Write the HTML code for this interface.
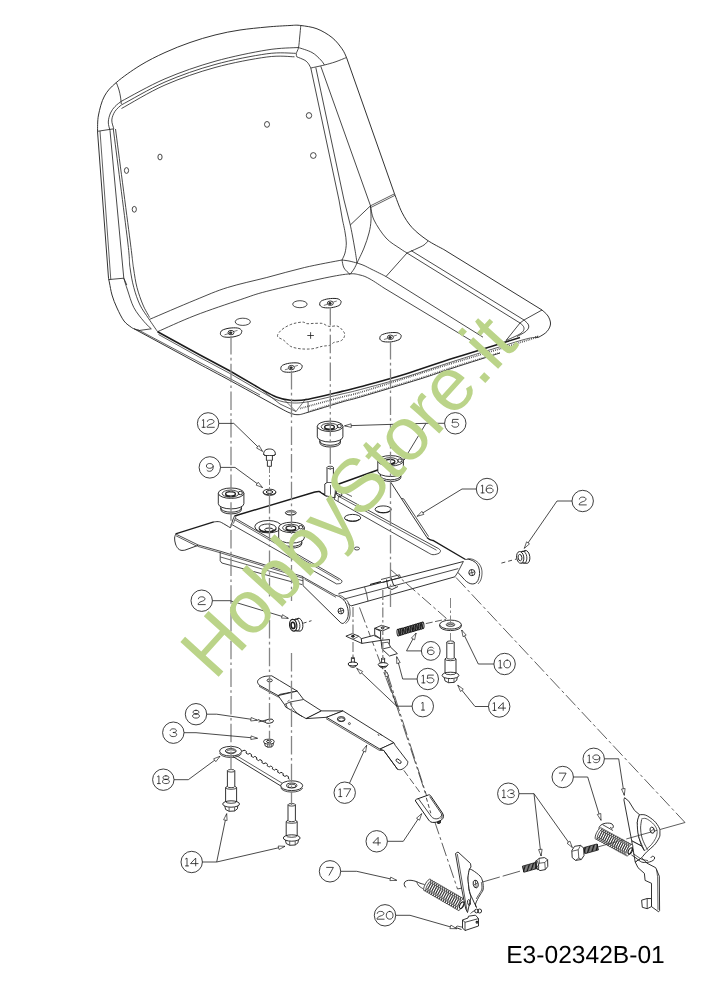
<!DOCTYPE html>
<html><head><meta charset="utf-8"><title>E3-02342B-01</title>
<style>
html,body{margin:0;padding:0;background:#fff;}
body{width:707px;height:1000px;overflow:hidden;font-family:"Liberation Sans",sans-serif;}
svg{display:block;will-change:transform;}
</style></head><body>
<svg width="707" height="1000" viewBox="0 0 707 1000">
<rect x="0" y="0" width="707" height="1000" fill="#ffffff"/>
<path d="M200 364.5L133.9 328.7C133.5 328.5 133 328.6 131.3 327.3C129.7 326 126.4 324.2 124 321C121.6 317.8 119 312.3 117 308C115 303.7 113.2 299.2 112 295C110.8 290.8 110.1 285.8 109.5 283C108.9 280.2 108.7 278.8 108.5 278L97.5 131.3C97.7 128.6 97.3 120.9 98.5 115C99.7 109.1 101.5 101.4 104.5 96C107.5 90.6 110.4 87.6 116.3 82.5C122.2 77.4 131.9 70.5 140 65.5C148.1 60.5 156.7 56.3 165 52.5C173.3 48.7 181.7 45.4 190 42.5C198.3 39.6 206.7 37.1 215 35C223.3 32.9 231.3 31.3 240 30C248.7 28.7 258.7 27.8 267 27C275.3 26.2 284.4 25.8 290 25.5C295.6 25.2 296.3 24.9 300.8 25.5C305.3 26.1 311.8 26.8 317 28.8C322.2 30.8 327.8 34.2 332 37.5C336.2 40.8 339.6 45.5 342 48.8C344.4 52.1 345.8 56 346.5 57.5L394.5 193.8C395.8 196.9 399.1 206.9 402 212.5C404.9 218.1 407.8 222.9 412 227.5C416.2 232.1 421.7 236.3 427 240C432.3 243.7 441 247.9 443.8 249.5L542 310C543 311 546.6 313.7 548 316C549.4 318.3 550.7 321.4 550.5 324C550.3 326.6 548.9 329.3 547 331.5C545.1 333.7 541 336 539 337C537 338 535.7 337.4 535 337.5" fill="none" stroke="#1c1c1c" stroke-width="0.9"/>
<path d="M100 131L110.8 279.5" fill="none" stroke="#1c1c1c" stroke-width="0.7"/>
<path d="M97.5 131.3L113.8 128.8" fill="none" stroke="#1c1c1c" stroke-width="0.8"/>
<path d="M108.5 279.6L123.8 278.2L126.8 285" fill="none" stroke="#1c1c1c" stroke-width="0.8"/>
<path d="M110 130.5L120.2 240L123.8 278.2" fill="none" stroke="#1c1c1c" stroke-width="0.8"/>
<path d="M113.3 129C115.7 147.5 124.7 216.9 127.5 240C130.3 263.1 128.9 259.6 130 267.5C131.1 275.4 132.1 281.2 133.8 287.5C135.5 293.8 137.5 299.8 140 305C142.5 310.2 145.9 314.4 148.8 318.8C151.7 323.2 156.1 329.6 157.6 331.7" fill="none" stroke="#1c1c1c" stroke-width="0.8"/>
<path d="M115.5 129C117.9 147.5 127 216.8 130 240C133 263.2 132.3 260.1 133.5 268C134.7 275.9 135.4 281.3 137 287.5C138.6 293.7 140.9 300 143 305C145.1 310 148.6 315.4 149.7 317.5" fill="none" stroke="#1c1c1c" stroke-width="0.8"/>
<path d="M123.8 278.2C124.4 280.2 125.8 285.1 127.5 290C129.2 294.9 131.1 302.3 133.8 307.5C136.5 312.7 140.9 317.8 143.8 321.3C146.7 324.9 150.1 327.6 151.3 328.8" fill="none" stroke="#1c1c1c" stroke-width="0.8"/>
<path d="M133.9 328.7L139 330.5L151.3 328.8" fill="none" stroke="#1c1c1c" stroke-width="0.8"/>
<path d="M116.3 82.5C116.8 83.8 118.3 87.6 119 90C119.7 92.4 120.1 94.7 120.5 97C120.9 99.3 121.2 102.8 121.3 104" fill="none" stroke="#1c1c1c" stroke-width="0.8"/>
<path d="M113.8 128.8C113.5 127.3 111.6 122.9 111.8 120C112 117.1 113.4 113.8 115 111.3C116.6 108.8 120.2 106 121.3 105" fill="none" stroke="#1c1c1c" stroke-width="0.8"/>
<path d="M110 130.5C109.7 129.1 108.2 124.9 108.3 122C108.4 119.1 109.4 115.6 110.5 113C111.6 110.4 113.2 108.5 115 106.5C116.8 104.5 120.2 102.2 121.3 101.3" fill="none" stroke="#1c1c1c" stroke-width="0.8"/>
<path d="M121.3 101.3C128.6 97.5 149.4 85.5 165 78.8C180.6 72.1 198 66.1 215 61.3C232 56.5 252.9 52.3 266.8 50C280.7 47.7 293.1 47.9 298.3 47.5" fill="none" stroke="#1c1c1c" stroke-width="0.8"/>
<path d="M121.3 105C128.6 101.2 149.4 88.8 165 82C180.6 75.2 198 69.2 215 64.5C232 59.8 253.3 55.7 266.8 53.8C280.3 51.9 291 53.4 295.8 53.3" fill="none" stroke="#1c1c1c" stroke-width="0.8"/>
<path d="M121.5 108.5C128.8 104.6 149.4 91.8 165 85C180.6 78.2 198 72.2 215 67.5C232 62.8 253.6 58.8 266.8 57C280.1 55.2 289.9 56.8 294.5 56.8" fill="none" stroke="#1c1c1c" stroke-width="0.8"/>
<path d="M300.8 25.5C300.6 27.4 300.1 33.3 299.7 37C299.3 40.7 299.1 44.9 298.5 47.6C297.9 50.4 296.6 52 296.3 53.5C296 55 296.7 56.2 296.8 56.8" fill="none" stroke="#1c1c1c" stroke-width="0.8"/>
<path d="M298.3 47.5C300.6 48.3 308.2 50.4 312 52.5C315.8 54.6 318.7 57.9 320.8 60C322.9 62.1 323.9 64.2 324.5 65" fill="none" stroke="#1c1c1c" stroke-width="0.8"/>
<path d="M296.8 56.8C298.1 57.4 302.9 59.1 304.9 60.3C306.8 61.5 307.5 62.5 308.5 63.8C309.5 65.1 310.4 67.3 310.8 68" fill="none" stroke="#1c1c1c" stroke-width="0.8"/>
<path d="M346.5 57.5C344.6 58.2 338.7 60.8 335 62C331.3 63.2 328.5 64 324.5 65C320.5 66 313.1 67.5 310.8 68" fill="none" stroke="#1c1c1c" stroke-width="0.8"/>
<path d="M310.8 68L339 200L342.5 220C342.9 222 344.4 228.2 345 232C345.6 235.8 346.3 239.5 346.3 243C346.3 246.5 345.7 250.2 345 253C344.3 255.8 342.5 258.8 342 260" fill="none" stroke="#1c1c1c" stroke-width="0.8"/>
<path d="M315.8 67.5L344 200L350.3 225C350.7 226.8 351.7 231.8 352.5 236C353.3 240.2 354.2 245.5 355 250C355.8 254.5 356.7 260.8 357 263" fill="none" stroke="#1c1c1c" stroke-width="0.8"/>
<path d="M320.8 66.3L370.5 205.8" fill="none" stroke="#1c1c1c" stroke-width="0.8"/>
<path d="M370.5 205.8L394.5 193.8" fill="none" stroke="#1c1c1c" stroke-width="0.7"/>
<path d="M371.2 207.3L395.1 195.3" fill="none" stroke="#1c1c1c" stroke-width="0.7"/>
<path d="M370.5 205.8L350.3 225" fill="none" stroke="#1c1c1c" stroke-width="0.8"/>
<path d="M370.5 205.8C370.6 208.2 371.2 215.5 371 220C370.8 224.5 370.2 228.3 369 233C367.8 237.7 366 243 364 248C362 253 358.2 260.5 357 263" fill="none" stroke="#1c1c1c" stroke-width="0.8"/>
<path d="M370.5 205.8C371.1 208.2 371.4 214.6 374 220C376.6 225.4 381.7 233.2 386 238C390.3 242.8 396.5 246 400 248.5C403.5 251 405.8 252.2 407 253" fill="none" stroke="#1c1c1c" stroke-width="0.8"/>
<path d="M342 260C343.2 260.2 346.5 260.5 349 261C351.5 261.5 355.7 262.7 357 263" fill="none" stroke="#1c1c1c" stroke-width="0.8"/>
<path d="M342 260C342.3 261.3 342.7 265.6 344 268C345.3 270.4 349 273.3 350 274.4" fill="none" stroke="#1c1c1c" stroke-width="0.8"/>
<path d="M357 263C356.5 264 355.2 267.1 354 269C352.8 270.9 350.7 273.5 350 274.4" fill="none" stroke="#1c1c1c" stroke-width="0.8"/>
<path d="M407 253C408.7 252.2 414.2 249.8 417 248.5C419.8 247.2 422.2 246.2 424 245C425.8 243.8 427.3 241.7 428 241" fill="none" stroke="#1c1c1c" stroke-width="0.8"/>
<path d="M407 253L386 276.5" fill="none" stroke="#1c1c1c" stroke-width="0.8"/>
<path d="M411 250.5L524 320C524.7 320.7 527.2 322.7 528 324C528.8 325.3 529 326.7 528.5 328C528 329.3 526.9 330.6 525 332C523.1 333.4 518.3 335.8 517 336.5" fill="none" stroke="#1c1c1c" stroke-width="0.8"/>
<path d="M407 253L520 323C520.6 323.6 522.9 325.2 523.5 326.5C524.1 327.8 524.2 329.2 523.5 330.5C522.8 331.8 521.9 332.8 519 334.5C516.1 336.2 508.2 339.5 506 340.5" fill="none" stroke="#1c1c1c" stroke-width="0.8"/>
<path d="M542 310L524 320L520 323L506 340.5" fill="none" stroke="#1c1c1c" stroke-width="0.8"/>
<path d="M149.7 319.3C157.3 316.1 182.2 305.3 195.2 300C208.2 294.7 215.6 291.2 227.5 287.5C239.4 283.8 254 280.8 266.8 277.5C279.6 274.2 292 270.4 304.5 267.5C317 264.6 335.8 261.2 342 260" fill="none" stroke="#1c1c1c" stroke-width="0.8"/>
<path d="M157.6 331.7C163.8 329 181.1 320.9 195 315.5C208.9 310.1 228.8 303.5 240.8 299.5C252.8 295.5 253.6 294.7 266.8 291.3C280 287.9 306.5 281.9 320 279C333.5 276.1 341.3 274.7 348 274C354.7 273.3 356.3 274.2 360 275C363.7 275.8 366 276.8 370 279C374 281.2 381.7 286.5 384 288L474 342.3" fill="none" stroke="#1c1c1c" stroke-width="0.8"/>
<path d="M357 263C358.2 263.4 361.5 264.4 364 265.5C366.5 266.6 368.3 267.7 372 269.5C375.7 271.3 383.7 275.3 386 276.5L483 337.2" fill="none" stroke="#1c1c1c" stroke-width="0.8"/>
<path d="M157.6 331.7L200 355L230 371L260.2 388.6C262.9 390 271.3 395.1 276.3 397C281.3 398.9 285 399.9 290.4 400.3C295.8 400.7 299.8 400.7 308.4 399.2C317 397.7 333.3 393.5 342 391.4C350.7 389.3 349.9 389.7 360.5 386.8C371.1 383.9 390.3 378.8 405.7 374C421.1 369.2 437.9 363.1 453 358.3C468.1 353.5 484.8 348.5 496 345C507.2 341.5 516 338.8 520 337.5" fill="none" stroke="#1c1c1c" stroke-width="1.6"/>
<path d="M158.5 334.5L200 357.5L230 373.5L260 391C262.7 392.4 270.9 397.5 276 399.5C281.1 401.5 285 402.4 290.4 402.8C295.8 403.2 299.8 403.2 308.4 401.7C317 400.2 333.3 396 342 394C350.7 392 349.9 392.3 360.5 389.5C371.1 386.7 390.3 381.7 405.7 377C421.1 372.3 437.9 366.3 453 361.5C468.1 356.7 483.5 351.8 496 348C508.5 344.2 521 340.2 528 338.5C535 336.8 536.3 337.7 538 337.5" fill="none" stroke="#1c1c1c" stroke-width="0.7"/>
<path d="M200 364.5C205 367.2 220 375.1 230 380.5C240 385.9 251.7 392.4 260 397C268.3 401.6 275 405.3 280 408C285 410.7 287 411.9 290 413C293 414.1 295 414.8 298 414.7C301 414.6 300.7 414.4 308 412.3C315.3 410.2 333.2 404.6 342 402C350.8 399.4 347.5 400.8 360.5 397C373.5 393.2 404.6 383.8 420 379C435.4 374.2 439.7 372.3 453 368C466.3 363.7 492.2 355.5 500 353" fill="none" stroke="#1c1c1c" stroke-width="0.9"/>
<path d="M137.5 329.5L200 362.6L230 378.6L260 395" fill="none" stroke="#1c1c1c" stroke-width="0.7"/>
<path d="M300 408.5C307 406.6 331.9 399.7 342 397C352.1 394.3 347.5 396.2 360.5 392.3C373.5 388.4 404.6 378.4 420 373.5C435.4 368.6 439 367.3 453 363C467 358.7 490.2 351.8 504 347.5C517.8 343.2 530.8 339.2 536 337.5C541.2 335.8 535.2 337.1 535 337" fill="none" stroke="#444" stroke-width="1.7" stroke-dasharray="0.8 1.1"/>
<path d="M310 411C315.3 409.3 333.6 403.5 342 401C350.4 398.5 347.5 399.8 360.5 396C373.5 392.2 404.6 382.8 420 378C435.4 373.2 439.7 371.2 453 367C466.3 362.8 492.2 354.9 500 352.5" fill="none" stroke="#555" stroke-width="1.3" stroke-dasharray="0.8 1.1"/>
<path d="M262 390L280 404L296 411.5" fill="none" stroke="#1c1c1c" stroke-width="0.7"/>
<path d="M284 399.5L296 411.5L306 398.5" fill="none" stroke="#1c1c1c" stroke-width="0.6"/>
<path d="M308 401.5L308.4 412" fill="none" stroke="#1c1c1c" stroke-width="0.7"/>
<ellipse cx="160" cy="157" rx="2.1" ry="2.9" fill="none" stroke="#1c1c1c" stroke-width="0.8"/>
<ellipse cx="126.5" cy="170.5" rx="2.1" ry="2.9" fill="none" stroke="#1c1c1c" stroke-width="0.8"/>
<ellipse cx="134.3" cy="209.3" rx="2.1" ry="2.9" fill="none" stroke="#1c1c1c" stroke-width="0.8"/>
<ellipse cx="267" cy="124.4" rx="2.5" ry="2.9" fill="none" stroke="#1c1c1c" stroke-width="0.8"/>
<ellipse cx="309" cy="115.5" rx="2.7" ry="2.9" fill="none" stroke="#1c1c1c" stroke-width="0.8"/>
<ellipse cx="313.3" cy="155.5" rx="2.8" ry="2.9" fill="none" stroke="#1c1c1c" stroke-width="0.8"/>
<path d="M220.4 333.4C220.5 332.6 220.6 331.3 222 330.4C223.4 329.5 226.4 328.6 229 328.2C231.6 327.8 235.4 327.7 237.5 328C239.6 328.3 240.6 329.3 241.3 330C242 330.7 241.9 331.4 241.6 332.2C241.3 333 241.2 334.2 239.6 335C238 335.8 234.5 336.8 232 337.1C229.5 337.4 226.3 337.3 224.5 337C222.7 336.7 221.9 336 221.2 335.4C220.5 334.8 220.3 334.2 220.4 333.4Z" fill="none" stroke="#222" stroke-width="1.0"/>
<ellipse cx="231" cy="332.6" rx="3" ry="2.2" fill="none" stroke="#222" stroke-width="0.9"/>
<ellipse cx="230.7" cy="332.8" rx="1.3" ry="1" fill="#333" stroke="#222" stroke-width="0.8"/>
<path d="M228 333.8L224.5 334.8" fill="none" stroke="#1c1c1c" stroke-width="0.6"/>
<path d="M234 331.4L237.5 330.4" fill="none" stroke="#1c1c1c" stroke-width="0.6"/>
<path d="M319.7 304C319.8 303.2 319.9 301.9 321.3 301C322.7 300.1 325.7 299.2 328.3 298.8C330.9 298.4 334.8 298.3 336.8 298.6C338.9 298.9 339.9 299.9 340.6 300.6C341.3 301.3 341.2 302 340.9 302.8C340.6 303.6 340.5 304.8 338.9 305.6C337.3 306.4 333.8 307.4 331.3 307.7C328.8 308 325.6 307.9 323.8 307.6C322 307.3 321.2 306.6 320.5 306C319.8 305.4 319.6 304.8 319.7 304Z" fill="none" stroke="#222" stroke-width="1.0"/>
<ellipse cx="330.3" cy="303.2" rx="3" ry="2.2" fill="none" stroke="#222" stroke-width="0.9"/>
<ellipse cx="330" cy="303.4" rx="1.3" ry="1" fill="#333" stroke="#222" stroke-width="0.8"/>
<path d="M327.3 304.4L323.8 305.4" fill="none" stroke="#1c1c1c" stroke-width="0.6"/>
<path d="M333.3 302L336.8 301" fill="none" stroke="#1c1c1c" stroke-width="0.6"/>
<path d="M280.8 368.4C280.9 367.6 281 366.3 282.4 365.4C283.8 364.5 286.8 363.6 289.4 363.2C292 362.8 295.8 362.7 297.9 363C299.9 363.3 301 364.3 301.7 365C302.4 365.7 302.3 366.4 302 367.2C301.7 368 301.6 369.2 300 370C298.4 370.8 294.9 371.8 292.4 372.1C289.9 372.4 286.7 372.3 284.9 372C283.1 371.7 282.3 371 281.6 370.4C280.9 369.8 280.7 369.2 280.8 368.4Z" fill="none" stroke="#222" stroke-width="1.0"/>
<ellipse cx="291.4" cy="367.6" rx="3" ry="2.2" fill="none" stroke="#222" stroke-width="0.9"/>
<ellipse cx="291.1" cy="367.8" rx="1.3" ry="1" fill="#333" stroke="#222" stroke-width="0.8"/>
<path d="M288.4 368.8L284.9 369.8" fill="none" stroke="#1c1c1c" stroke-width="0.6"/>
<path d="M294.4 366.4L297.9 365.4" fill="none" stroke="#1c1c1c" stroke-width="0.6"/>
<path d="M379.8 338.1C379.9 337.3 380 336 381.4 335.1C382.8 334.2 385.8 333.3 388.4 332.9C391 332.5 394.8 332.4 396.9 332.7C398.9 333 400 334 400.7 334.7C401.4 335.4 401.3 336.1 401 336.9C400.7 337.7 400.6 338.9 399 339.7C397.4 340.5 393.9 341.5 391.4 341.8C388.9 342.1 385.7 342 383.9 341.7C382.1 341.4 381.3 340.7 380.6 340.1C379.9 339.5 379.7 338.9 379.8 338.1Z" fill="none" stroke="#222" stroke-width="1.0"/>
<ellipse cx="390.4" cy="337.3" rx="3" ry="2.2" fill="none" stroke="#222" stroke-width="0.9"/>
<ellipse cx="390.1" cy="337.5" rx="1.3" ry="1" fill="#333" stroke="#222" stroke-width="0.8"/>
<path d="M387.4 338.5L383.9 339.5" fill="none" stroke="#1c1c1c" stroke-width="0.6"/>
<path d="M393.4 336.1L396.9 335.1" fill="none" stroke="#1c1c1c" stroke-width="0.6"/>
<ellipse cx="299.9" cy="304.2" rx="7.2" ry="3.5" fill="none" stroke="#1c1c1c" stroke-width="0.8"/>
<ellipse cx="242.8" cy="321.8" rx="7.6" ry="3.6" fill="none" stroke="#1c1c1c" stroke-width="0.8"/>
<path d="M277.7 336.7C276.9 335.3 278.4 333.4 279.5 332C280.6 330.6 282.2 329.2 284 328C285.8 326.8 288.3 325.5 290.5 324.6C292.7 323.7 294.9 323.2 297 322.8C299.1 322.4 301.5 322 303.2 322.1C304.9 322.2 305.2 323.5 307 323.7C308.8 323.9 311.4 323.4 314 323.4C316.6 323.3 320.3 323.1 322.3 323.4C324.3 323.7 324.8 324.8 326.1 325.3C327.4 325.8 328.2 326.4 329.9 326.5C331.6 326.6 334.6 325.7 336.3 325.9C338 326.1 338.9 326.9 340 327.6C341.1 328.4 341.9 329.5 342.6 330.4C343.3 331.3 344.1 332.1 344.4 333C344.7 333.9 344.7 334.6 344.6 335.5C344.5 336.4 344.1 337.5 343.6 338.3C343.1 339.1 342.4 339.9 341.4 340.5C340.4 341.1 338.8 341.5 337.5 341.8C336.2 342.1 335 341.9 333.7 342.5C332.4 343.1 331.8 344.7 329.9 345.3C328 345.9 325.3 345.7 322.3 346.3C319.3 346.9 315.7 348.4 312.1 348.8C308.5 349.2 304.2 349.2 300.6 348.8C297 348.4 293.2 347.7 290.5 346.3C287.8 344.9 286.2 342.1 284.1 340.5C282 338.9 278.5 338.1 277.7 336.7Z" fill="none" stroke="#333" stroke-width="0.8" stroke-dasharray="2.6 1.8"/>
<path d="M307.3 335.5L313.9 335.5" fill="none" stroke="#1c1c1c" stroke-width="0.8"/>
<path d="M310.6 332.2L310.6 338.8" fill="none" stroke="#1c1c1c" stroke-width="0.8"/>
<path d="M175.6 533.9L213.8 521.9" fill="none" stroke="#1c1c1c" stroke-width="1.3"/>
<path d="M213.8 521.9C214.5 521.9 216.7 521.5 218 521.6C219.3 521.7 219.6 521.6 221.6 522.6C223.6 523.6 228.7 526.8 230.1 527.6" fill="none" stroke="#1c1c1c" stroke-width="0.9"/>
<path d="M175.8 533.9C175.6 534.6 174.7 536.3 174.6 538C174.5 539.7 174.9 542.2 175.5 544C176.1 545.8 177.1 547.5 178 548.5C178.9 549.5 179.9 550 181 550.3C182.1 550.6 184.2 550.2 184.8 550.2" fill="none" stroke="#1c1c1c" stroke-width="0.9"/>
<path d="M184.8 550.2L198.2 545.3" fill="none" stroke="#1c1c1c" stroke-width="0.9"/>
<path d="M176.3 534.3L198.2 545" fill="none" stroke="#1c1c1c" stroke-width="0.8"/>
<path d="M176 535.8L196.5 546" fill="none" stroke="#1c1c1c" stroke-width="0.7"/>
<path d="M198.2 545L220.9 551.4L303 576.6" fill="none" stroke="#1c1c1c" stroke-width="0.8"/>
<path d="M197.5 546.3L220.5 552.8L303 578.2" fill="none" stroke="#1c1c1c" stroke-width="0.7"/>
<path d="M220.2 552L220.2 560.8L221.8 563L302.2 584.6" fill="none" stroke="#1c1c1c" stroke-width="0.8"/>
<path d="M220.5 557L303 580.8" fill="none" stroke="#1c1c1c" stroke-width="0.7"/>
<path d="M234.5 516C234.2 516.7 233.3 518.6 232.8 520C232.3 521.4 231.9 523.2 231.5 524.5C231.1 525.8 230.5 527.4 230.3 528" fill="none" stroke="#1c1c1c" stroke-width="0.9"/>
<path d="M236 516.5C235.8 517.1 235 518.8 234.6 520C234.2 521.2 233.7 522.9 233.5 523.5" fill="none" stroke="#1c1c1c" stroke-width="0.7"/>
<path d="M234.5 516L314 492.2C314.8 492.1 317.7 491.4 319 491.6C320.3 491.8 320.7 492.6 322 493.3C323.3 494 326.2 495.6 327 496" fill="none" stroke="#1a1a1a" stroke-width="1.5"/>
<path d="M235.5 518.4L340.3 579.3" fill="none" stroke="#1c1c1c" stroke-width="0.8"/>
<path d="M235 519.9L339.2 580.5" fill="none" stroke="#1c1c1c" stroke-width="0.7"/>
<path d="M340.3 579.3C340.6 579.6 341.9 580.3 342 581C342.1 581.7 341.6 582.8 340.7 583.3C339.8 583.8 337.2 583.8 336.5 583.9" fill="none" stroke="#1c1c1c" stroke-width="0.8"/>
<path d="M336.5 583.9L231.4 524.3" fill="none" stroke="#1c1c1c" stroke-width="0.8"/>
<path d="M303 577L335.2 595.2" fill="none" stroke="#1c1c1c" stroke-width="0.8"/>
<path d="M303 577L303 585.6" fill="none" stroke="#1c1c1c" stroke-width="0.8"/>
<path d="M304.5 579.2L336 597.3" fill="none" stroke="#1c1c1c" stroke-width="0.7"/>
<path d="M303 585.6L340.9 622.9" fill="none" stroke="#1c1c1c" stroke-width="0.9"/>
<path d="M335.2 595.2C336 595.5 338.2 595.9 339.8 596.9C341.4 597.9 343.7 599.6 345 601.5C346.3 603.4 347.1 606.1 347.7 608.2C348.2 610.3 348.4 612.2 348.3 614C348.2 615.8 348 617.5 347.2 619C346.4 620.5 344.7 622.6 343.6 623.2C342.6 623.9 341.3 623 340.9 622.9" fill="none" stroke="#1c1c1c" stroke-width="0.9"/>
<path d="M338.5 594.8C339.2 595.2 341.4 595.8 343 597C344.6 598.2 346.9 600.1 348 602C349.1 603.9 349.5 606.3 349.8 608.5C350.1 610.7 350.2 613 350 615C349.8 617 349.2 619.1 348.5 620.5C347.8 621.9 346 623 345.5 623.5" fill="none" stroke="#1c1c1c" stroke-width="0.7"/>
<ellipse cx="340.9" cy="611" rx="2.9" ry="2.9" fill="#fff" stroke="#1c1c1c" stroke-width="0.9"/>
<path d="M338 611.8L343.8 610.2" fill="none" stroke="#1c1c1c" stroke-width="0.7"/>
<path d="M340.3 608.1L341.5 613.9" fill="none" stroke="#1c1c1c" stroke-width="0.7"/>
<ellipse cx="268.2" cy="526.7" rx="13.4" ry="6.2" fill="none" stroke="#1c1c1c" stroke-width="0.9"/>
<ellipse cx="267.6" cy="528" rx="8.6" ry="4" fill="none" stroke="#1c1c1c" stroke-width="0.9"/>
<ellipse cx="269" cy="529.8" rx="4.3" ry="1.8" fill="none" stroke="#1c1c1c" stroke-width="1.0"/>
<path d="M259.3 528.8A8.6 4 0 0 0 276 528.8" fill="none" stroke="#222" stroke-width="1.4"/>
<ellipse cx="290.8" cy="512.8" rx="5.5" ry="2.2" fill="none" stroke="#1c1c1c" stroke-width="0.8"/>
<ellipse cx="290.8" cy="513.4" rx="4.4" ry="1.6" fill="none" stroke="#1c1c1c" stroke-width="0.7"/>
<ellipse cx="352.6" cy="517.9" rx="8.1" ry="3.5" fill="none" stroke="#1c1c1c" stroke-width="0.9"/>
<path d="M346.5 519A6.3 2.4 0 0 0 359 519" fill="none" stroke="#1c1c1c" stroke-width="1.0"/>
<ellipse cx="383.2" cy="509.4" rx="8.1" ry="3.5" fill="none" stroke="#1c1c1c" stroke-width="0.9"/>
<path d="M377 510.5A6.3 2.4 0 0 0 389.5 510.5" fill="none" stroke="#1c1c1c" stroke-width="1.0"/>
<ellipse cx="356.9" cy="548.5" rx="2.6" ry="1.5" fill="none" stroke="#1c1c1c" stroke-width="0.8"/>
<path d="M327 467.5L327 482.5L324.8 484L324.8 495.5L335 498L335.5 486L333.4 482.5L333.4 467.5" fill="#fff" stroke="#1c1c1c" stroke-width="0.9"/>
<ellipse cx="330.2" cy="467.5" rx="3.2" ry="1.3" fill="#fff" stroke="#1c1c1c" stroke-width="0.8"/>
<path d="M327 482.5L333.4 482.5" fill="none" stroke="#1c1c1c" stroke-width="0.7"/>
<path d="M330.5 485L330.5 497" fill="none" stroke="#1c1c1c" stroke-width="0.7"/>
<path d="M336 485L386 467" fill="none" stroke="#1a1a1a" stroke-width="1.5"/>
<path d="M335.5 486.5L340 489.5L344 493" fill="none" stroke="#1c1c1c" stroke-width="0.8"/>
<ellipse cx="339" cy="493.5" rx="2.4" ry="3.6" fill="none" stroke="#1c1c1c" stroke-width="0.8" transform="rotate(-30 339 493.5)"/>
<path d="M345 493L352 496.5" fill="none" stroke="#1c1c1c" stroke-width="0.7"/>
<path d="M335.9 492.6L438.7 548.7" fill="none" stroke="#1c1c1c" stroke-width="0.8"/>
<path d="M339.5 496.8L436.5 550.2" fill="none" stroke="#1c1c1c" stroke-width="0.7"/>
<path d="M438.7 548.7C439 549 440.4 549.9 440.5 550.6C440.6 551.4 440.2 552.5 439 553.2C437.8 553.9 434.8 554.8 433 554.7C431.2 554.7 429.2 553.2 428.5 552.9" fill="none" stroke="#1c1c1c" stroke-width="0.8"/>
<path d="M428.5 552.9L334.2 499.4" fill="none" stroke="#1c1c1c" stroke-width="0.8"/>
<path d="M335.9 492.6C335.7 493.1 334.9 494.4 334.6 495.5C334.3 496.6 334.3 498.8 334.2 499.4" fill="none" stroke="#1c1c1c" stroke-width="0.7"/>
<path d="M339.5 494.8C339.3 495.3 338.6 496.5 338.4 497.6C338.2 498.7 338.2 500.9 338.2 501.5" fill="none" stroke="#1c1c1c" stroke-width="0.7"/>
<path d="M390.8 482.3L412.5 515.6L427 537.6" fill="none" stroke="#1c1c1c" stroke-width="0.9"/>
<path d="M401.5 498.5L403.6 498.8L415.4 516.6L428.6 536.6" fill="none" stroke="#1c1c1c" stroke-width="0.8"/>
<path d="M427 537.6C427.4 537.9 428.5 538.8 429.5 539.3C430.5 539.8 432.4 540.3 433 540.5L465.5 559.5" fill="none" stroke="#1a1a1a" stroke-width="1.4"/>
<path d="M338.6 593.5L463.4 561.5" fill="none" stroke="#1c1c1c" stroke-width="0.9"/>
<path d="M343.2 599.3L458.3 568.6" fill="none" stroke="#1c1c1c" stroke-width="0.8"/>
<path d="M351.1 605.9L454.9 576.8" fill="none" stroke="#1c1c1c" stroke-width="0.9"/>
<path d="M347.5 603.3L351.1 605.9" fill="none" stroke="#1c1c1c" stroke-width="0.7"/>
<path d="M364.5 586.8L366.5 593.2" fill="none" stroke="#1c1c1c" stroke-width="0.7"/>
<path d="M366.5 593.2L368 601.2" fill="none" stroke="#1c1c1c" stroke-width="0.7"/>
<path d="M465.5 559.5C466.2 559.5 468.4 559.1 470 559.6C471.6 560.1 473.9 561.1 475.3 562.3C476.7 563.5 477.9 565.1 478.6 567C479.3 568.9 479.6 571.5 479.6 573.4C479.6 575.3 479 577.1 478.6 578.5C478.2 579.9 477.8 581 477 581.9C476.2 582.8 475.1 583.5 474 583.8C472.9 584.1 471.4 584 470.2 583.6C468.9 583.2 467.5 582.2 466.5 581.5C465.5 580.8 464.6 579.7 464.2 579.3" fill="none" stroke="#1c1c1c" stroke-width="0.9"/>
<path d="M464.2 579.3L457.8 572.3" fill="none" stroke="#1c1c1c" stroke-width="0.9"/>
<path d="M463.4 561.5L457.8 572.3L454.9 576.8" fill="none" stroke="#1c1c1c" stroke-width="0.8"/>
<path d="M467.5 558.6C468.4 558.7 471.2 558.7 473 559.4C474.8 560.1 476.9 561.4 478.3 562.8C479.7 564.2 480.8 566.1 481.4 568C482 569.9 482.1 572 482 574C481.9 576 481.5 578.3 480.8 580C480.1 581.7 478.5 583.3 478 584" fill="none" stroke="#1c1c1c" stroke-width="0.7"/>
<ellipse cx="471.9" cy="572.6" rx="3.1" ry="3.1" fill="#fff" stroke="#1c1c1c" stroke-width="0.9"/>
<path d="M468.8 573.4L475 571.8" fill="none" stroke="#1c1c1c" stroke-width="0.7"/>
<path d="M471.3 569.5L472.5 575.7" fill="none" stroke="#1c1c1c" stroke-width="0.7"/>
<path d="M381 579.5L399.5 574.8L400.5 577.5L382.5 582.5" fill="none" stroke="#1c1c1c" stroke-width="0.8"/>
<path d="M386.5 579.5L388 588L392 589.5L398 586.5" fill="none" stroke="#1c1c1c" stroke-width="0.9"/>
<path d="M391 577.5L393.5 585L396 586" fill="none" stroke="#1c1c1c" stroke-width="0.9"/>
<path d="M370 584.5L381 581.7" fill="none" stroke="#1c1c1c" stroke-width="1.2"/>
<path d="M220.8 505.7L220.8 509.7A10.3 4.2 0 0 0 241.4 509.7L241.4 505.7" fill="#fff" stroke="#1c1c1c" stroke-width="0.9"/>
<path d="M220.8 508A10.3 4.2 0 0 0 241.4 508" fill="none" stroke="#1c1c1c" stroke-width="0.9"/>
<path d="M218.3 493.2L218.3 503.7A12.8 5.2 0 0 0 243.9 503.7L243.9 493.2" fill="#fff" stroke="#1c1c1c" stroke-width="0.9"/>
<ellipse cx="231.1" cy="493.2" rx="12.8" ry="5.2" fill="#fff" stroke="#1c1c1c" stroke-width="0.9"/>
<ellipse cx="230.5" cy="493.6" rx="8.3" ry="3.5" fill="none" stroke="#1c1c1c" stroke-width="0.8"/>
<ellipse cx="230.5" cy="494" rx="4.9" ry="2.3" fill="none" stroke="#222" stroke-width="1.3"/>
<path d="M225.9 494.8A5 2.4 0 0 0 235.1 495.1" fill="none" stroke="#222" stroke-width="1.6"/>
<ellipse cx="240.3" cy="493" rx="2.1" ry="1.7" fill="none" stroke="#1c1c1c" stroke-width="0.9"/>
<path d="M319.8 438.8L319.8 442.8A10.3 4.2 0 0 0 340.4 442.8L340.4 438.8" fill="#fff" stroke="#1c1c1c" stroke-width="0.9"/>
<path d="M319.8 441.1A10.3 4.2 0 0 0 340.4 441.1" fill="none" stroke="#1c1c1c" stroke-width="0.9"/>
<path d="M317.3 426.3L317.3 436.8A12.8 5.2 0 0 0 342.9 436.8L342.9 426.3" fill="#fff" stroke="#1c1c1c" stroke-width="0.9"/>
<ellipse cx="330.1" cy="426.3" rx="12.8" ry="5.2" fill="#fff" stroke="#1c1c1c" stroke-width="0.9"/>
<ellipse cx="329.5" cy="426.7" rx="8.3" ry="3.5" fill="none" stroke="#1c1c1c" stroke-width="0.8"/>
<ellipse cx="329.5" cy="427.1" rx="4.9" ry="2.3" fill="none" stroke="#222" stroke-width="1.3"/>
<path d="M324.9 427.9A5 2.4 0 0 0 334.1 428.2" fill="none" stroke="#222" stroke-width="1.6"/>
<ellipse cx="339.3" cy="426.1" rx="2.1" ry="1.7" fill="none" stroke="#1c1c1c" stroke-width="0.9"/>
<path d="M380.3 473.3L380.3 477.3A10.3 4.2 0 0 0 400.9 477.3L400.9 473.3" fill="#fff" stroke="#1c1c1c" stroke-width="0.9"/>
<path d="M380.3 475.6A10.3 4.2 0 0 0 400.9 475.6" fill="none" stroke="#1c1c1c" stroke-width="0.9"/>
<path d="M377.8 460.8L377.8 471.3A12.8 5.2 0 0 0 403.4 471.3L403.4 460.8" fill="#fff" stroke="#1c1c1c" stroke-width="0.9"/>
<ellipse cx="390.6" cy="460.8" rx="12.8" ry="5.2" fill="#fff" stroke="#1c1c1c" stroke-width="0.9"/>
<ellipse cx="390" cy="461.2" rx="8.3" ry="3.5" fill="none" stroke="#1c1c1c" stroke-width="0.8"/>
<ellipse cx="390" cy="461.6" rx="4.9" ry="2.3" fill="none" stroke="#222" stroke-width="1.3"/>
<path d="M385.4 462.4A5 2.4 0 0 0 394.6 462.7" fill="none" stroke="#222" stroke-width="1.6"/>
<ellipse cx="399.8" cy="460.6" rx="2.1" ry="1.7" fill="none" stroke="#1c1c1c" stroke-width="0.9"/>
<path d="M281.2 539.9L281.2 543.9A10.3 4.2 0 0 0 301.8 543.9L301.8 539.9" fill="#fff" stroke="#1c1c1c" stroke-width="0.9"/>
<path d="M281.2 542.2A10.3 4.2 0 0 0 301.8 542.2" fill="none" stroke="#1c1c1c" stroke-width="0.9"/>
<path d="M278.7 527.4L278.7 537.9A12.8 5.2 0 0 0 304.3 537.9L304.3 527.4" fill="#fff" stroke="#1c1c1c" stroke-width="0.9"/>
<ellipse cx="291.5" cy="527.4" rx="12.8" ry="5.2" fill="#fff" stroke="#1c1c1c" stroke-width="0.9"/>
<ellipse cx="290.9" cy="527.8" rx="8.3" ry="3.5" fill="none" stroke="#1c1c1c" stroke-width="0.8"/>
<ellipse cx="290.9" cy="528.2" rx="4.9" ry="2.3" fill="none" stroke="#222" stroke-width="1.3"/>
<path d="M286.3 529A5 2.4 0 0 0 295.5 529.3" fill="none" stroke="#222" stroke-width="1.6"/>
<ellipse cx="300.7" cy="527.2" rx="2.1" ry="1.7" fill="none" stroke="#1c1c1c" stroke-width="0.9"/>
<path d="M456 577.5L685 822.5" fill="none" stroke="#333" stroke-width="0.8" stroke-dasharray="14 3 3 3"/>
<path d="M390.5 569.5L446.5 618.5" fill="none" stroke="#333" stroke-width="0.8" stroke-dasharray="12 3 3 3"/>
<path d="M425.8 623.6L446 619.2" fill="none" stroke="#333" stroke-width="0.8" stroke-dasharray="7 2.5"/>
<path d="M359.5 607.5L396.8 706.5L434.5 821" fill="none" stroke="#333" stroke-width="0.8" stroke-dasharray="16 3 3 3"/>
<path d="M386.9 672L427 797" fill="none" stroke="#333" stroke-width="0.8" stroke-dasharray="16 3 3 3"/>
<path d="M434.5 821L457.5 889" fill="none" stroke="#333" stroke-width="0.8" stroke-dasharray="14 3 3 3"/>
<path d="M457.5 889L466.5 887" fill="none" stroke="#1c1c1c" stroke-width="0.8"/>
<path d="M403.8 770.3L421 793.8" fill="none" stroke="#333" stroke-width="0.8" stroke-dasharray="7 3"/>
<path d="M482.5 882L522 870.6" fill="none" stroke="#333" stroke-width="0.8" stroke-dasharray="18 3"/>
<path d="M303.2 623.2L311.5 620.7" fill="none" stroke="#1c1c1c" stroke-width="0.8" stroke-dasharray="3.5 2.5"/>
<path d="M501.4 563.1L516.2 559.1" fill="none" stroke="#1c1c1c" stroke-width="0.8" stroke-dasharray="4 3"/>
<path d="M263.6 454.5C263.6 450.5 265.8 449 269.4 449C273 449 275.4 450.5 275.4 454.5C275.4 456.3 263.6 456.3 263.6 454.5Z" fill="#fff" stroke="#1c1c1c" stroke-width="0.9"/>
<path d="M263.6 454.2A5.9 1.7 0 0 0 275.4 454.2" fill="none" stroke="#1c1c1c" stroke-width="0.8"/>
<path d="M266.4 456L266.4 460.3L267.4 461.2L267.4 466.3L271.4 466.3L271.4 461.2L272.4 460.3L272.4 456" fill="#fff" stroke="#1c1c1c" stroke-width="0.9"/>
<path d="M266.4 460.3L272.4 460.3" fill="none" stroke="#1c1c1c" stroke-width="0.7"/>
<ellipse cx="269.5" cy="492" rx="6.4" ry="2.8" fill="#fff" stroke="#1c1c1c" stroke-width="0.9"/>
<path d="M263.1 492.6A6.4 2.8 0 0 0 275.9 492.6" fill="none" stroke="#1c1c1c" stroke-width="0.8"/>
<ellipse cx="269.5" cy="492" rx="3.3" ry="1.4" fill="none" stroke="#1c1c1c" stroke-width="1.0"/>
<ellipse cx="299.2" cy="624.7" rx="3.6" ry="6.5" fill="#fff" stroke="#1c1c1c" stroke-width="0.9" transform="rotate(-8 299.2 624.7)"/>
<path d="M293.2 619.6L299.2 619L299.2 631.2L293.2 630.8Z" fill="#fff" stroke="#1c1c1c" stroke-width="0.01"/>
<path d="M293.7 619.7L299 618.6" fill="none" stroke="#1c1c1c" stroke-width="0.9"/>
<path d="M294 630.8L299.4 631" fill="none" stroke="#1c1c1c" stroke-width="0.9"/>
<ellipse cx="296.6" cy="624.9" rx="3.2" ry="6" fill="none" stroke="#1c1c1c" stroke-width="0.8" transform="rotate(-8 296.6 624.9)"/>
<ellipse cx="293.2" cy="625.2" rx="3.6" ry="5.9" fill="#fff" stroke="#1c1c1c" stroke-width="1.2" transform="rotate(-8 293.2 625.2)"/>
<ellipse cx="293" cy="625.4" rx="1.9" ry="3.2" fill="#fff" stroke="#1c1c1c" stroke-width="1.6" transform="rotate(-8 293 625.4)"/>
<ellipse cx="526.2" cy="556.9" rx="3.6" ry="6.5" fill="#fff" stroke="#1c1c1c" stroke-width="0.9" transform="rotate(-8 526.2 556.9)"/>
<path d="M520.2 551.8L526.2 551.2L526.2 563.4L520.2 563Z" fill="#fff" stroke="#1c1c1c" stroke-width="0.01"/>
<path d="M520.7 551.9L526 550.8" fill="none" stroke="#1c1c1c" stroke-width="0.9"/>
<path d="M521 563L526.4 563.2" fill="none" stroke="#1c1c1c" stroke-width="0.9"/>
<ellipse cx="523.6" cy="557.1" rx="3.2" ry="6" fill="none" stroke="#1c1c1c" stroke-width="0.8" transform="rotate(-8 523.6 557.1)"/>
<ellipse cx="520.2" cy="557.4" rx="3.6" ry="5.9" fill="#fff" stroke="#1c1c1c" stroke-width="0.9" transform="rotate(-8 520.2 557.4)"/>
<ellipse cx="520" cy="557.6" rx="1.9" ry="3.2" fill="#fff" stroke="#1c1c1c" stroke-width="0.9" transform="rotate(-8 520 557.6)"/>
<path d="M345.9 636.2L352.4 633.6L358.8 636.2L361.3 638.7L361.8 643.4L352.9 639.4Z" fill="#fff" stroke="#1c1c1c" stroke-width="0.9"/>
<path d="M358.8 636.2L352.9 639.4" fill="none" stroke="#1c1c1c" stroke-width="0.7"/>
<ellipse cx="352.9" cy="636.3" rx="1.5" ry="0.9" fill="#333" stroke="#1c1c1c" stroke-width="1.0"/>
<path d="M361.3 638.7L373.7 635.4L380.6 638.7L381.1 640.4L361.8 643.4Z" fill="#fff" stroke="#1c1c1c" stroke-width="0.9"/>
<path d="M374.7 628.3L374.7 634.8L380.6 638.7L380.6 631.2Z" fill="#fff" stroke="#1c1c1c" stroke-width="0.9"/>
<path d="M374.7 628.3L381.6 625.3L389.5 627.8L382.6 630.9Z" fill="#fff" stroke="#1c1c1c" stroke-width="0.9"/>
<ellipse cx="382.7" cy="627.8" rx="1.5" ry="0.9" fill="#333" stroke="#1c1c1c" stroke-width="1.0"/>
<path d="M381.1 640.4L389.5 639.5L389.2 644.2L390.5 647.1L397.4 653.6L389.5 656L382.1 649.1L381.3 643Z" fill="#fff" stroke="#1c1c1c" stroke-width="0.9"/>
<path d="M381.3 643L388 642.2L389.2 644.2" fill="none" stroke="#1c1c1c" stroke-width="0.7"/>
<path d="M382.1 649.1L390.5 647.1" fill="none" stroke="#1c1c1c" stroke-width="0.8"/>
<path d="M351.4 663.4L351.4 657.9L354.4 657.9L354.4 663.4" fill="#fff" stroke="#1c1c1c" stroke-width="0.9"/>
<ellipse cx="352.9" cy="657.9" rx="1.5" ry="0.7" fill="#fff" stroke="#1c1c1c" stroke-width="0.8"/>
<ellipse cx="352.9" cy="664" rx="4.9" ry="2" fill="#fff" stroke="#1c1c1c" stroke-width="1.0"/>
<path d="M348.9 665.2C350.4 668 355.4 668 356.9 665.2" fill="none" stroke="#1c1c1c" stroke-width="0.9"/>
<path d="M381.6 664L381.6 658.5L384.6 658.5L384.6 664" fill="#fff" stroke="#1c1c1c" stroke-width="0.9"/>
<ellipse cx="383.1" cy="658.5" rx="1.5" ry="0.7" fill="#fff" stroke="#1c1c1c" stroke-width="0.8"/>
<ellipse cx="383.1" cy="664.6" rx="4.9" ry="2" fill="#fff" stroke="#1c1c1c" stroke-width="1.0"/>
<path d="M379.1 665.8C380.6 668.6 385.6 668.6 387.1 665.8" fill="none" stroke="#1c1c1c" stroke-width="0.9"/>
<ellipse cx="398.2" cy="632.6" rx="1.2" ry="3.3" fill="none" stroke="#1a1a1a" stroke-width="1.0" transform="rotate(-4.3 398.2 632.6)"/>
<ellipse cx="399.8" cy="632.1" rx="1.2" ry="3.3" fill="none" stroke="#1a1a1a" stroke-width="1.0" transform="rotate(-4.3 399.8 632.1)"/>
<ellipse cx="401.5" cy="631.6" rx="1.2" ry="3.3" fill="none" stroke="#1a1a1a" stroke-width="1.0" transform="rotate(-4.3 401.5 631.6)"/>
<ellipse cx="403.1" cy="631.2" rx="1.2" ry="3.3" fill="none" stroke="#1a1a1a" stroke-width="1.0" transform="rotate(-4.3 403.1 631.2)"/>
<ellipse cx="404.8" cy="630.7" rx="1.2" ry="3.3" fill="none" stroke="#1a1a1a" stroke-width="1.0" transform="rotate(-4.3 404.8 630.7)"/>
<ellipse cx="406.4" cy="630.2" rx="1.2" ry="3.3" fill="none" stroke="#1a1a1a" stroke-width="1.0" transform="rotate(-4.3 406.4 630.2)"/>
<ellipse cx="408" cy="629.7" rx="1.2" ry="3.3" fill="none" stroke="#1a1a1a" stroke-width="1.0" transform="rotate(-4.3 408 629.7)"/>
<ellipse cx="409.7" cy="629.2" rx="1.2" ry="3.3" fill="none" stroke="#1a1a1a" stroke-width="1.0" transform="rotate(-4.3 409.7 629.2)"/>
<ellipse cx="411.3" cy="628.8" rx="1.2" ry="3.3" fill="none" stroke="#1a1a1a" stroke-width="1.0" transform="rotate(-4.3 411.3 628.8)"/>
<ellipse cx="413" cy="628.3" rx="1.2" ry="3.3" fill="none" stroke="#1a1a1a" stroke-width="1.0" transform="rotate(-4.3 413 628.3)"/>
<ellipse cx="414.6" cy="627.8" rx="1.2" ry="3.3" fill="none" stroke="#1a1a1a" stroke-width="1.0" transform="rotate(-4.3 414.6 627.8)"/>
<ellipse cx="416.2" cy="627.3" rx="1.2" ry="3.3" fill="none" stroke="#1a1a1a" stroke-width="1.0" transform="rotate(-4.3 416.2 627.3)"/>
<ellipse cx="417.9" cy="626.8" rx="1.2" ry="3.3" fill="none" stroke="#1a1a1a" stroke-width="1.0" transform="rotate(-4.3 417.9 626.8)"/>
<ellipse cx="419.5" cy="626.4" rx="1.2" ry="3.3" fill="none" stroke="#1a1a1a" stroke-width="1.0" transform="rotate(-4.3 419.5 626.4)"/>
<ellipse cx="421.2" cy="625.9" rx="1.2" ry="3.3" fill="none" stroke="#1a1a1a" stroke-width="1.0" transform="rotate(-4.3 421.2 625.9)"/>
<ellipse cx="422.8" cy="625.4" rx="1.2" ry="3.3" fill="none" stroke="#1a1a1a" stroke-width="1.0" transform="rotate(-4.3 422.8 625.4)"/>
<path d="M439.7 624.6L439.7 626.1A10.8 4.5 0 0 0 461.3 626.1L461.3 624.6" fill="#fff" stroke="#1c1c1c" stroke-width="0.9"/>
<ellipse cx="450.5" cy="624.6" rx="10.8" ry="4.5" fill="#fff" stroke="#1c1c1c" stroke-width="0.9"/>
<ellipse cx="450.5" cy="624.6" rx="4.2" ry="1.8" fill="none" stroke="#1c1c1c" stroke-width="0.9"/>
<path d="M446.6 625.5A4.2 1.8 0 0 1 454.4 625.5" fill="none" stroke="#1c1c1c" stroke-width="0.7"/>
<path d="M446.8 642.2L446.8 657.7L445 658.9L445 673.2L456 673.2L456 658.9L454.2 657.7L454.2 642.2Z" fill="#fff" stroke="#1c1c1c" stroke-width="0.9"/>
<ellipse cx="450.5" cy="642.2" rx="3.7" ry="1.3" fill="#fff" stroke="#1c1c1c" stroke-width="0.8"/>
<path d="M446.8 657.7A3.7 1.4 0 0 0 454.2 657.7" fill="none" stroke="#1c1c1c" stroke-width="0.8"/>
<path d="M445 658.9A5.5 1.8 0 0 0 456 658.9" fill="none" stroke="#1c1c1c" stroke-width="0.8"/>
<path d="M444 676.4L445 680.9L448.5 682.7L454 682.4L456.8 680.2L457.3 676.4" fill="#fff" stroke="#1c1c1c" stroke-width="0.9"/>
<path d="M448.5 678.6L448.5 682.7" fill="none" stroke="#1c1c1c" stroke-width="0.7"/>
<path d="M454 678.6L454 682.4" fill="none" stroke="#1c1c1c" stroke-width="0.7"/>
<ellipse cx="450.5" cy="675.4" rx="8.4" ry="3.2" fill="#fff" stroke="#1c1c1c" stroke-width="0.9"/>
<path d="M445 672.9A5.5 1.8 0 0 0 456 672.9" fill="none" stroke="#1c1c1c" stroke-width="0.8"/>
<path d="M227.4 770.8L227.4 786.3L225.6 787.5L225.6 801.8L236.6 801.8L236.6 787.5L234.8 786.3L234.8 770.8Z" fill="#fff" stroke="#1c1c1c" stroke-width="0.9"/>
<ellipse cx="231.1" cy="770.8" rx="3.7" ry="1.3" fill="#fff" stroke="#1c1c1c" stroke-width="0.8"/>
<path d="M227.4 786.3A3.7 1.4 0 0 0 234.8 786.3" fill="none" stroke="#1c1c1c" stroke-width="0.8"/>
<path d="M225.6 787.5A5.5 1.8 0 0 0 236.6 787.5" fill="none" stroke="#1c1c1c" stroke-width="0.8"/>
<path d="M224.6 805L225.6 809.5L229.1 811.3L234.6 811L237.4 808.8L237.9 805" fill="#fff" stroke="#1c1c1c" stroke-width="0.9"/>
<path d="M229.1 807.2L229.1 811.3" fill="none" stroke="#1c1c1c" stroke-width="0.7"/>
<path d="M234.6 807.2L234.6 811" fill="none" stroke="#1c1c1c" stroke-width="0.7"/>
<ellipse cx="231.1" cy="804" rx="8.4" ry="3.2" fill="#fff" stroke="#1c1c1c" stroke-width="0.9"/>
<path d="M225.6 801.5A5.5 1.8 0 0 0 236.6 801.5" fill="none" stroke="#1c1c1c" stroke-width="0.8"/>
<path d="M288 804.8L288 820.3L286.2 821.5L286.2 835.8L297.2 835.8L297.2 821.5L295.4 820.3L295.4 804.8Z" fill="#fff" stroke="#1c1c1c" stroke-width="0.9"/>
<ellipse cx="291.7" cy="804.8" rx="3.7" ry="1.3" fill="#fff" stroke="#1c1c1c" stroke-width="0.8"/>
<path d="M288 820.3A3.7 1.4 0 0 0 295.4 820.3" fill="none" stroke="#1c1c1c" stroke-width="0.8"/>
<path d="M286.2 821.5A5.5 1.8 0 0 0 297.2 821.5" fill="none" stroke="#1c1c1c" stroke-width="0.8"/>
<path d="M285.2 839L286.2 843.5L289.7 845.3L295.2 845L298 842.8L298.5 839" fill="#fff" stroke="#1c1c1c" stroke-width="0.9"/>
<path d="M289.7 841.2L289.7 845.3" fill="none" stroke="#1c1c1c" stroke-width="0.7"/>
<path d="M295.2 841.2L295.2 845" fill="none" stroke="#1c1c1c" stroke-width="0.7"/>
<ellipse cx="291.7" cy="838" rx="8.4" ry="3.2" fill="#fff" stroke="#1c1c1c" stroke-width="0.9"/>
<path d="M286.2 835.5A5.5 1.8 0 0 0 297.2 835.5" fill="none" stroke="#1c1c1c" stroke-width="0.8"/>
<path d="M271.7 675.8C270.4 675.9 266.1 676 264 676.6C261.9 677.2 260.1 678.2 259 679.1C257.9 680 257.5 681 257.5 682C257.5 683 258.8 684.5 259 685L278.1 695.6L297.2 691.1L279.4 680.4Z" fill="#fff" stroke="#1c1c1c" stroke-width="0.9"/>
<ellipse cx="269.7" cy="680.4" rx="2.6" ry="1.5" fill="none" stroke="#1c1c1c" stroke-width="0.9"/>
<path d="M259 686.3L278.1 697L283 696" fill="none" stroke="#1c1c1c" stroke-width="0.7"/>
<path d="M278.1 695.6L280.5 694.2L297.2 691.1" fill="none" stroke="#1c1c1c" stroke-width="0.8"/>
<path d="M278.1 695.6L284.5 704.6L285.7 707.1L306.1 718.6L321.4 710.9L303.6 699.5L297.2 691.1Z" fill="#fff" stroke="#1c1c1c" stroke-width="0.9"/>
<path d="M284.5 704.6L290 702L303.6 699.5" fill="none" stroke="#1c1c1c" stroke-width="0.8"/>
<path d="M290 702C290.2 702.7 290.5 704.3 291.5 706C292.5 707.7 294.2 710.2 296 712C297.8 713.8 301 715.8 302 716.5" fill="none" stroke="#1c1c1c" stroke-width="0.8"/>
<path d="M286 703.8L287.2 707.8" fill="none" stroke="#1c1c1c" stroke-width="0.7"/>
<path d="M287.5 701.5L289.5 700.2" fill="none" stroke="#1c1c1c" stroke-width="0.7"/>
<path d="M306.1 718.6L321.4 710.9L343 710.9L326.5 717.3Z" fill="#fff" stroke="#1c1c1c" stroke-width="0.9"/>
<path d="M326.5 717.3L343 710.9L393.9 742.7L379.9 749.1Z" fill="#fff" stroke="#1c1c1c" stroke-width="0.9"/>
<path d="M326 718.6L379.6 750.5L383.7 750.4" fill="none" stroke="#1c1c1c" stroke-width="0.7"/>
<ellipse cx="341.2" cy="719.1" rx="3.9" ry="2.5" fill="none" stroke="#1c1c1c" stroke-width="0.9"/>
<ellipse cx="341.4" cy="719.5" rx="2.9" ry="1.7" fill="none" stroke="#1c1c1c" stroke-width="0.8"/>
<ellipse cx="349.4" cy="723.6" rx="1" ry="1" fill="none" stroke="#1c1c1c" stroke-width="0.7"/>
<path d="M378 734.3L379 735.8" fill="none" stroke="#1c1c1c" stroke-width="1.0"/>
<path d="M380.3 733.8L381.3 735.3" fill="none" stroke="#1c1c1c" stroke-width="1.0"/>
<path d="M379.9 749.1L383.7 750.4L397.7 769.5C398.4 769.5 400.5 770 402 769.3C403.5 768.6 405.7 766.8 406.7 765.5C407.7 764.2 407.7 762.4 407.9 761.8L395.2 745.3L393.9 742.7Z" fill="#fff" stroke="#1c1c1c" stroke-width="0.9"/>
<path d="M383.7 750.4L397.7 769.5" fill="none" stroke="#1c1c1c" stroke-width="0.9"/>
<ellipse cx="398.6" cy="761.2" rx="3" ry="1.5" fill="none" stroke="#1c1c1c" stroke-width="0.9" transform="rotate(38 398.6 761.2)"/>
<path d="M240.5 749.8L290.8 780.1L283 787L231.4 756.3Z" fill="#fff" stroke="#1c1c1c" stroke-width="0.01"/>
<path d="M242 750.6L242.8 751.1A1.7 1.6 0 0 1 246 753L247.3 753.8L248.1 754.3A1.7 1.6 0 0 1 251.2 756.2L252.6 757L253.3 757.4A1.7 1.6 0 0 1 256.5 759.3L257.8 760.1L258.6 760.6A1.7 1.6 0 0 1 261.8 762.5L263.1 763.3L263.9 763.8A1.7 1.6 0 0 1 267.1 765.7L268.4 766.5L269.2 767A1.7 1.6 0 0 1 272.3 768.9L273.7 769.7L274.5 770.1A1.7 1.6 0 0 1 277.6 772.1L278.9 772.8L279.7 773.3A1.7 1.6 0 0 1 282.9 775.2L284.2 776L285 776.5A1.7 1.6 0 0 1 288.2 778.4L289.5 779.2" fill="none" stroke="#1c1c1c" stroke-width="1.0"/>
<path d="M233 756.6L281.5 786.4" fill="none" stroke="#1c1c1c" stroke-width="0.9"/>
<path d="M236.5 755.6L284.5 784.6" fill="none" stroke="#1c1c1c" stroke-width="0.7"/>
<ellipse cx="230.6" cy="751.2" rx="11" ry="4.8" fill="#fff" stroke="#1c1c1c" stroke-width="0.9"/>
<path d="M219.7 752A11 4.8 0 0 0 241.5 752.4" fill="none" stroke="#1c1c1c" stroke-width="0.8" transform="translate(0 1.1)"/>
<ellipse cx="230.8" cy="751" rx="5.4" ry="2.4" fill="none" stroke="#1c1c1c" stroke-width="0.9"/>
<ellipse cx="231" cy="751.5" rx="4.2" ry="1.7" fill="none" stroke="#1c1c1c" stroke-width="0.7"/>
<ellipse cx="291.7" cy="785.7" rx="11" ry="4.9" fill="#fff" stroke="#1c1c1c" stroke-width="0.9"/>
<path d="M280.8 786.5A11 4.9 0 0 0 302.6 786.9" fill="none" stroke="#1c1c1c" stroke-width="0.8" transform="translate(0 1.1)"/>
<ellipse cx="291.7" cy="785.5" rx="5.2" ry="2.4" fill="none" stroke="#1c1c1c" stroke-width="0.9"/>
<ellipse cx="291.9" cy="786" rx="4" ry="1.7" fill="none" stroke="#1c1c1c" stroke-width="0.7"/>
<ellipse cx="269.3" cy="721.2" rx="4.2" ry="2.1" fill="#fff" stroke="#1c1c1c" stroke-width="0.9" transform="rotate(-8 269.3 721.2)"/>
<path d="M258 719.6L265.5 722.4" fill="none" stroke="#1c1c1c" stroke-width="0.9"/>
<path d="M258.5 722L266 720" fill="none" stroke="#1c1c1c" stroke-width="0.8"/>
<path d="M264.7 742.6L265.1 745.8L267.7 747.2L271.3 747L273.1 745.6L273.3 742.6" fill="#fff" stroke="#1c1c1c" stroke-width="0.9"/>
<path d="M267.7 744.2L267.7 747.2" fill="none" stroke="#1c1c1c" stroke-width="0.7"/>
<path d="M271.3 744.2L271.3 747" fill="none" stroke="#1c1c1c" stroke-width="0.7"/>
<ellipse cx="268.9" cy="741.6" rx="5.3" ry="2.4" fill="#fff" stroke="#1c1c1c" stroke-width="0.9"/>
<ellipse cx="268.9" cy="741.5" rx="2.4" ry="1.1" fill="none" stroke="#1c1c1c" stroke-width="1.0"/>
<path d="M416.4 799.3L428.6 794.9Q429.9 794.6 430.5 795.6L442.4 813C444.1 815.6 443.8 818 441.6 819.8C439.4 821.6 436 822.7 432.3 822.4C430 822 429 820.5 428 819L415.5 801Q415 799.8 416.4 799.3Z" fill="#fff" stroke="#1c1c1c" stroke-width="1.0"/>
<path d="M429.7 796.6L441.2 813.4C442.6 815.6 442.3 817.4 440.8 818.8" fill="none" stroke="#1c1c1c" stroke-width="0.8"/>
<path d="M418.4 798.7L431.4 816.6C433 818.6 435.5 819.3 438 818.6C440.3 817.8 441.6 816 441.9 814.2" fill="none" stroke="#1c1c1c" stroke-width="0.8"/>
<ellipse cx="439" cy="822.3" rx="1.5" ry="1" fill="#444" stroke="#222" stroke-width="1.3" transform="rotate(-20 439 822.3)"/>
<path d="M426.3 797.8L430.8 813.2" fill="none" stroke="#1c1c1c" stroke-width="0.8" stroke-dasharray="4 2.5"/>
<path d="M424.5 884.5C423.8 884.3 421.3 883.7 420 883.2C418.7 882.7 418 882.1 416.5 881.6C415 881.1 412.7 880.4 411 880.3C409.3 880.2 407.6 880.3 406.5 880.8C405.4 881.2 404.6 882.1 404.3 883C404 883.9 404.3 885.2 404.6 886C404.9 886.8 405.9 887.3 406.2 887.6" fill="none" stroke="#1c1c1c" stroke-width="0.9"/>
<path d="M416.5 881.6C416.9 882.3 417.8 884.8 419 886C420.2 887.2 422.8 888.5 423.5 889" fill="none" stroke="#1c1c1c" stroke-width="0.8"/>
<ellipse cx="427.3" cy="885" rx="2.2" ry="6.6" fill="#fff" stroke="#333" stroke-width="0.8" transform="rotate(28.2 427.3 885)"/>
<ellipse cx="429.3" cy="886.2" rx="2.2" ry="6.6" fill="none" stroke="#333" stroke-width="0.8" transform="rotate(28.2 429.3 886.2)"/>
<ellipse cx="431.3" cy="887.3" rx="2.2" ry="6.6" fill="none" stroke="#333" stroke-width="0.8" transform="rotate(28.2 431.3 887.3)"/>
<ellipse cx="433.2" cy="888.5" rx="2.2" ry="6.6" fill="none" stroke="#333" stroke-width="0.8" transform="rotate(28.2 433.2 888.5)"/>
<ellipse cx="435.2" cy="889.6" rx="2.2" ry="6.6" fill="none" stroke="#333" stroke-width="0.8" transform="rotate(28.2 435.2 889.6)"/>
<ellipse cx="437.2" cy="890.8" rx="2.2" ry="6.6" fill="none" stroke="#333" stroke-width="0.8" transform="rotate(28.2 437.2 890.8)"/>
<ellipse cx="439.2" cy="891.9" rx="2.2" ry="6.6" fill="none" stroke="#333" stroke-width="0.8" transform="rotate(28.2 439.2 891.9)"/>
<ellipse cx="441.2" cy="893.1" rx="2.2" ry="6.6" fill="none" stroke="#333" stroke-width="0.8" transform="rotate(28.2 441.2 893.1)"/>
<ellipse cx="443.2" cy="894.2" rx="2.2" ry="6.6" fill="none" stroke="#333" stroke-width="0.8" transform="rotate(28.2 443.2 894.2)"/>
<ellipse cx="445.1" cy="895.4" rx="2.2" ry="6.6" fill="none" stroke="#333" stroke-width="0.8" transform="rotate(28.2 445.1 895.4)"/>
<ellipse cx="447.1" cy="896.5" rx="2.2" ry="6.6" fill="none" stroke="#333" stroke-width="0.8" transform="rotate(28.2 447.1 896.5)"/>
<ellipse cx="449.1" cy="897.7" rx="2.2" ry="6.6" fill="none" stroke="#333" stroke-width="0.8" transform="rotate(28.2 449.1 897.7)"/>
<ellipse cx="451.1" cy="898.8" rx="2.2" ry="6.6" fill="none" stroke="#333" stroke-width="0.8" transform="rotate(28.2 451.1 898.8)"/>
<ellipse cx="453.1" cy="900" rx="2.2" ry="6.6" fill="none" stroke="#333" stroke-width="0.8" transform="rotate(28.2 453.1 900)"/>
<ellipse cx="455.1" cy="901.1" rx="2.2" ry="6.6" fill="none" stroke="#333" stroke-width="0.8" transform="rotate(28.2 455.1 901.1)"/>
<ellipse cx="457" cy="902.3" rx="2.2" ry="6.6" fill="none" stroke="#333" stroke-width="0.8" transform="rotate(28.2 457 902.3)"/>
<ellipse cx="459" cy="903.4" rx="2.2" ry="6.6" fill="none" stroke="#333" stroke-width="0.8" transform="rotate(28.2 459 903.4)"/>
<ellipse cx="461" cy="904.6" rx="2.2" ry="6.6" fill="#fff" stroke="#333" stroke-width="0.8" transform="rotate(28.2 461 904.6)"/>
<ellipse cx="461.8" cy="905.2" rx="1.9" ry="3.6" fill="none" stroke="#1c1c1c" stroke-width="1.1" transform="rotate(28 461.8 905.2)"/>
<path d="M455.5 853.5L458 852L470.5 863.5L471 867L469.5 869L468 878L469 890L471 897L467.5 912.5L465.8 909L461.5 888Z" fill="#fff" stroke="#1c1c1c" stroke-width="0.9"/>
<path d="M457.3 854L463.2 888L467 910.5" fill="none" stroke="#1c1c1c" stroke-width="0.7"/>
<path d="M469.5 869C470.1 869.2 471.2 869.3 473 870.5C474.8 871.7 478.4 874.2 480 876C481.6 877.8 482 879.4 482.5 881C483 882.6 483.1 884 483.2 885.5C483.3 887 483.5 888.4 483 890C482.5 891.6 480.9 893.4 480 895C479.1 896.6 478.2 898 477.5 899.5C476.8 901 475.7 902.7 475.5 904C475.3 905.3 476.3 906.9 476.5 907.5L476.5 907.5C475.9 906.2 474.1 902.7 473 900C471.9 897.3 470.4 895.2 469.6 891.5C468.8 887.8 468 881.8 468 878C468 874.2 469.2 870.5 469.5 869Z" fill="#fff" stroke="#1c1c1c" stroke-width="0.9"/>
<path d="M481.3 882C481.4 882.7 481.8 884.7 481.9 886C481.9 887.3 482.1 888.6 481.6 890C481.1 891.4 479.7 893 478.8 894.5C477.9 896 476.6 898.2 476.2 899" fill="none" stroke="#1c1c1c" stroke-width="0.7"/>
<ellipse cx="475.7" cy="884" rx="2.5" ry="3.9" fill="#fff" stroke="#1c1c1c" stroke-width="0.9" transform="rotate(-12 475.7 884)"/>
<path d="M473.4 885.2L478 882.8" fill="none" stroke="#1c1c1c" stroke-width="0.7"/>
<path d="M475.2 880.3L476.3 887.8" fill="none" stroke="#1c1c1c" stroke-width="0.7"/>
<ellipse cx="469" cy="902.5" rx="1.4" ry="2.9" fill="none" stroke="#1c1c1c" stroke-width="0.9" transform="rotate(-10 469 902.5)"/>
<ellipse cx="476.6" cy="911" rx="1.9" ry="1.9" fill="none" stroke="#1c1c1c" stroke-width="0.9"/>
<ellipse cx="479.6" cy="911" rx="2" ry="2" fill="none" stroke="#1c1c1c" stroke-width="0.9"/>
<path d="M470.5 913.5C470.9 913.2 472.2 912 473 911.5C473.8 911 474.7 910.7 475 910.5" fill="none" stroke="#1c1c1c" stroke-width="0.8"/>
<path d="M462.5 920L468 918L468.5 916.2L475.5 915.2L478.5 918.6L478.5 926L465 930.5L462.5 928Z" fill="#fff" stroke="#1c1c1c" stroke-width="0.9"/>
<path d="M462.5 920L465 922.3L465 930.5" fill="none" stroke="#1c1c1c" stroke-width="0.8"/>
<path d="M465 922.3L478.5 918.6" fill="none" stroke="#1c1c1c" stroke-width="0.8"/>
<ellipse cx="477" cy="922.3" rx="0.9" ry="0.9" fill="none" stroke="#222" stroke-width="1.1"/>
<path d="M455.5 927.5L461.5 929.5" fill="none" stroke="#1c1c1c" stroke-width="0.9"/>
<path d="M455.5 927.5L457 926L462.5 927.2" fill="none" stroke="#1c1c1c" stroke-width="0.7"/>
<path d="M598.6 828.5C598.9 828 599.7 826.1 600.6 825.3C601.5 824.5 602.8 824 604 823.6C605.2 823.2 606.4 823.1 607.6 823.1C608.8 823.1 610.1 823.2 611 823.5C611.9 823.8 612.5 824.4 612.9 825C613.3 825.6 613.5 826.7 613.3 827.2C613.1 827.8 612.3 828.3 611.8 828.3C611.3 828.3 610.5 827.4 610.2 827.2" fill="none" stroke="#1c1c1c" stroke-width="0.9"/>
<path d="M602.5 824.6L613 830.5" fill="none" stroke="#1c1c1c" stroke-width="0.8"/>
<path d="M635.2 862L638 867.7L644.4 873.4L645.1 880.4L651.5 883.3L651.5 906.6L658.6 911.8L659.6 910.5L659.3 876.2L655.7 867.7L647 863.2L641.6 857.8Z" fill="#fff" stroke="#1c1c1c" stroke-width="0.9"/>
<path d="M656.6 869.5L657.6 876.8L658 909.8" fill="none" stroke="#1c1c1c" stroke-width="0.7"/>
<path d="M624.6 797.7L628.8 801.2L634.5 810.4L639.5 814.7L637.3 822.4L638.7 836.6L641.5 846L631.7 840.8L623.9 799.8Z" fill="#fff" stroke="#1c1c1c" stroke-width="0.9"/>
<path d="M639.5 814.7C640.5 814.8 643.3 814.2 645.8 815.2C648.3 816.2 652 818.9 654.3 821C656.5 823.1 658.4 826.1 659.3 828.1C660.2 830.1 659.9 831.4 659.9 833C659.9 834.6 660.2 835.5 659.3 837.5C658.4 839.5 656.3 842.8 654.3 845.1C652.3 847.4 649.3 849.3 647.2 851.4C645.1 853.5 642.5 856.7 641.6 857.8L635.2 862L631.7 840.8L641.5 846L644.4 850.7L644.4 850.7C643.5 848.4 639.9 841.3 638.7 836.6C637.5 831.9 637.2 826 637.3 822.4C637.4 818.8 639.1 816 639.5 814.7" fill="#fff" stroke="#1c1c1c" stroke-width="0.9"/>
<path d="M641.3 819C642.1 818.9 644.1 817.9 646 818.6C647.9 819.3 650.7 821.3 652.5 823C654.3 824.7 655.9 827 656.6 828.8C657.4 830.6 657.2 832.4 657 834C656.8 835.6 656.4 836.8 655.5 838.5C654.6 840.2 653.2 842.6 651.5 844.5C649.8 846.4 646.5 849.1 645.5 850" fill="none" stroke="#1c1c1c" stroke-width="0.7"/>
<path d="M641.6 819.6C641.4 821 640.6 825.1 640.6 828C640.6 830.9 641.1 834.2 641.8 837C642.5 839.8 644 842.9 645 845C646 847.1 647.1 848.8 647.5 849.6" fill="none" stroke="#1c1c1c" stroke-width="0.8"/>
<ellipse cx="652.2" cy="830.2" rx="2.1" ry="3.1" fill="none" stroke="#1c1c1c" stroke-width="0.9" transform="rotate(-15 652.2 830.2)"/>
<path d="M650.3 831.5L654.2 828.9" fill="none" stroke="#1c1c1c" stroke-width="0.7"/>
<path d="M641.6 900.2L647.2 898.5L651.5 898.6L651.5 906.6L647.2 908.7L642.3 907.3Z" fill="#fff" stroke="#1c1c1c" stroke-width="0.9"/>
<path d="M647.2 898.5L647.2 908.7" fill="none" stroke="#1c1c1c" stroke-width="0.8"/>
<ellipse cx="598.6" cy="833.6" rx="2.2" ry="6.4" fill="#fff" stroke="#333" stroke-width="0.8" transform="rotate(26.4 598.6 833.6)"/>
<ellipse cx="600.5" cy="834.6" rx="2.2" ry="6.4" fill="none" stroke="#333" stroke-width="0.8" transform="rotate(26.4 600.5 834.6)"/>
<ellipse cx="602.4" cy="835.7" rx="2.2" ry="6.4" fill="none" stroke="#333" stroke-width="0.8" transform="rotate(26.4 602.4 835.7)"/>
<ellipse cx="604.4" cy="836.7" rx="2.2" ry="6.4" fill="none" stroke="#333" stroke-width="0.8" transform="rotate(26.4 604.4 836.7)"/>
<ellipse cx="606.3" cy="837.8" rx="2.2" ry="6.4" fill="none" stroke="#333" stroke-width="0.8" transform="rotate(26.4 606.3 837.8)"/>
<ellipse cx="608.2" cy="838.8" rx="2.2" ry="6.4" fill="none" stroke="#333" stroke-width="0.8" transform="rotate(26.4 608.2 838.8)"/>
<ellipse cx="610.1" cy="839.8" rx="2.2" ry="6.4" fill="none" stroke="#333" stroke-width="0.8" transform="rotate(26.4 610.1 839.8)"/>
<ellipse cx="612" cy="840.9" rx="2.2" ry="6.4" fill="none" stroke="#333" stroke-width="0.8" transform="rotate(26.4 612 840.9)"/>
<ellipse cx="614" cy="841.9" rx="2.2" ry="6.4" fill="none" stroke="#333" stroke-width="0.8" transform="rotate(26.4 614 841.9)"/>
<ellipse cx="615.9" cy="842.9" rx="2.2" ry="6.4" fill="none" stroke="#333" stroke-width="0.8" transform="rotate(26.4 615.9 842.9)"/>
<ellipse cx="617.8" cy="844" rx="2.2" ry="6.4" fill="none" stroke="#333" stroke-width="0.8" transform="rotate(26.4 617.8 844)"/>
<ellipse cx="619.7" cy="845" rx="2.2" ry="6.4" fill="none" stroke="#333" stroke-width="0.8" transform="rotate(26.4 619.7 845)"/>
<ellipse cx="621.6" cy="846.1" rx="2.2" ry="6.4" fill="none" stroke="#333" stroke-width="0.8" transform="rotate(26.4 621.6 846.1)"/>
<ellipse cx="623.5" cy="847.1" rx="2.2" ry="6.4" fill="none" stroke="#333" stroke-width="0.8" transform="rotate(26.4 623.5 847.1)"/>
<ellipse cx="625.5" cy="848.1" rx="2.2" ry="6.4" fill="none" stroke="#333" stroke-width="0.8" transform="rotate(26.4 625.5 848.1)"/>
<ellipse cx="627.4" cy="849.2" rx="2.2" ry="6.4" fill="none" stroke="#333" stroke-width="0.8" transform="rotate(26.4 627.4 849.2)"/>
<ellipse cx="629.3" cy="850.2" rx="2.2" ry="6.4" fill="#fff" stroke="#333" stroke-width="0.8" transform="rotate(26.4 629.3 850.2)"/>
<ellipse cx="630.3" cy="850.9" rx="1.8" ry="3.4" fill="none" stroke="#1c1c1c" stroke-width="1.1" transform="rotate(28 630.3 850.9)"/>
<path d="M631.5 855C632.2 855.5 634.3 856.8 636 858C637.7 859.2 639.8 861.3 641.6 862C643.4 862.7 645.4 862.5 647 862.4C648.6 862.3 650.3 861.8 651.5 861.3C652.7 860.8 653.8 859.9 654.3 859.2C654.8 858.5 654.7 857.5 654.4 857C654.1 856.5 652.9 856.2 652.3 856.3C651.7 856.4 651 857.5 650.8 857.8" fill="none" stroke="#1c1c1c" stroke-width="0.9"/>
<path d="M633 853.5L641.6 859.4L648 860.6" fill="none" stroke="#1c1c1c" stroke-width="0.7"/>
<path d="M524.2 872.2L537.4 868.4L535.6 862.4L522.4 866.2Z" fill="#fff" stroke="#1c1c1c" stroke-width="0.8"/>
<path d="M523.7 872.3L522.9 866.1" fill="none" stroke="#151515" stroke-width="1.0"/>
<path d="M525 871.9L524.2 865.7" fill="none" stroke="#151515" stroke-width="1.0"/>
<path d="M526.3 871.6L525.6 865.3" fill="none" stroke="#151515" stroke-width="1.0"/>
<path d="M527.6 871.2L526.9 864.9" fill="none" stroke="#151515" stroke-width="1.0"/>
<path d="M529 870.8L528.2 864.6" fill="none" stroke="#151515" stroke-width="1.0"/>
<path d="M530.3 870.4L529.5 864.2" fill="none" stroke="#151515" stroke-width="1.0"/>
<path d="M531.6 870L530.8 863.8" fill="none" stroke="#151515" stroke-width="1.0"/>
<path d="M532.9 869.7L532.2 863.4" fill="none" stroke="#151515" stroke-width="1.0"/>
<path d="M534.2 869.3L533.5 863" fill="none" stroke="#151515" stroke-width="1.0"/>
<path d="M535.6 868.9L534.8 862.7" fill="none" stroke="#151515" stroke-width="1.0"/>
<path d="M536.9 868.5L536.1 862.3" fill="none" stroke="#151515" stroke-width="1.0"/>
<path d="M536.3 861L539 858.3L544.5 857.6L547.6 859.7L547.8 866.4L545.3 869.6L540 870.6L536.6 868.2Z" fill="#fff" stroke="#1c1c1c" stroke-width="0.9"/>
<path d="M539 858.3L539.4 863.2L536.6 868.2" fill="none" stroke="#1c1c1c" stroke-width="0.7"/>
<path d="M539.4 863.2L544.8 862.5L545.3 869.6" fill="none" stroke="#1c1c1c" stroke-width="0.7"/>
<path d="M544.8 862.5L547.6 859.7" fill="none" stroke="#1c1c1c" stroke-width="0.7"/>
<ellipse cx="537" cy="865" rx="1.5" ry="4.6" fill="none" stroke="#1c1c1c" stroke-width="0.8" transform="rotate(-8 537 865)"/>
<path d="M585.3 853.6L598.4 850L596.8 844L583.7 847.6Z" fill="#fff" stroke="#1c1c1c" stroke-width="0.8"/>
<path d="M584.8 853.7L584.2 847.5" fill="none" stroke="#151515" stroke-width="1.0"/>
<path d="M586.1 853.4L585.5 847.1" fill="none" stroke="#151515" stroke-width="1.0"/>
<path d="M587.5 853L586.8 846.8" fill="none" stroke="#151515" stroke-width="1.0"/>
<path d="M588.8 852.6L588.1 846.4" fill="none" stroke="#151515" stroke-width="1.0"/>
<path d="M590.1 852.3L589.4 846" fill="none" stroke="#151515" stroke-width="1.0"/>
<path d="M591.4 851.9L590.7 845.7" fill="none" stroke="#151515" stroke-width="1.0"/>
<path d="M592.7 851.6L592 845.3" fill="none" stroke="#151515" stroke-width="1.0"/>
<path d="M594 851.2L593.3 845" fill="none" stroke="#151515" stroke-width="1.0"/>
<path d="M595.3 850.8L594.6 844.6" fill="none" stroke="#151515" stroke-width="1.0"/>
<path d="M596.6 850.5L596 844.2" fill="none" stroke="#151515" stroke-width="1.0"/>
<path d="M597.9 850.1L597.3 843.9" fill="none" stroke="#151515" stroke-width="1.0"/>
<path d="M571.8 850.5L574.6 846.3L580.6 845.4L583.6 848L584 855.6L581.3 859.5L575.6 860.4L572.2 857.6Z" fill="#fff" stroke="#1c1c1c" stroke-width="0.9"/>
<path d="M580.6 845.4L578.2 849.8L572 851.2" fill="none" stroke="#1c1c1c" stroke-width="0.7"/>
<path d="M578.2 849.8L578.8 858L575.6 860.4" fill="none" stroke="#1c1c1c" stroke-width="0.7"/>
<path d="M578.8 858L581.3 859.5" fill="none" stroke="#1c1c1c" stroke-width="0.7"/>
<path d="M685 822.5L598 846.9" fill="none" stroke="#333" stroke-width="0.8" stroke-dasharray="26 3 3 3"/>
<path d="M269.5 467L269.5 489" fill="none" stroke="#858585" stroke-width="1.0" stroke-dasharray="6 2 2 2"/>
<path d="M269.5 495L269.5 600" fill="none" stroke="#858585" stroke-width="1.3" stroke-dasharray="18.5 3.3 2.6 3.3"/>
<path d="M269.5 620L269.5 748" fill="none" stroke="#858585" stroke-width="1.3" stroke-dasharray="18.5 3.3 2.6 3.3"/>
<path d="M353 607L353 657" fill="none" stroke="#858585" stroke-width="1.3" stroke-dasharray="10 2.5 2.5 2.5"/>
<path d="M382.8 590L382.8 657" fill="none" stroke="#858585" stroke-width="1.3" stroke-dasharray="10 2.5 2.5 2.5"/>
<path d="M450.5 598L450.5 641" fill="none" stroke="#858585" stroke-width="1.0" stroke-dasharray="10 2.5 2.5 2.5"/>
<path d="M231 336L231 771" fill="none" stroke="#858585" stroke-width="1.3" stroke-dasharray="18.5 3.3 2.6 3.3"/>
<path d="M291.5 371L291.5 601" fill="none" stroke="#858585" stroke-width="1.3" stroke-dasharray="18.5 3.3 2.6 3.3"/>
<path d="M291.5 653L291.5 805" fill="none" stroke="#858585" stroke-width="1.3" stroke-dasharray="18.5 3.3 2.6 3.3"/>
<path d="M330.3 307L330.3 470" fill="none" stroke="#858585" stroke-width="1.3" stroke-dasharray="18.5 3.3 2.6 3.3"/>
<path d="M390.5 341L390.5 607" fill="none" stroke="#858585" stroke-width="1.3" stroke-dasharray="18.5 3.3 2.6 3.3"/>
<ellipse cx="208.1" cy="423.4" rx="10.7" ry="10.7" fill="none" stroke="#1c1c1c" stroke-width="0.85"/>
<path d="M202.3 420.3L203.6 419.5L203.6 427.3M202.1 427.3L205.1 427.3" fill="none" stroke="#1c1c1c" stroke-width="0.8" stroke-linecap="round" stroke-linejoin="round"/>
<path d="M207.4 421.4C207.6 420.1 208.8 419.5 210.7 419.5C212.9 419.5 214 420.3 214 421.6C214 423 212.2 423.6 210.1 424.3C208.2 425.1 207.1 425.9 207.1 427.3L214.3 427.3" fill="none" stroke="#1c1c1c" stroke-width="0.8" stroke-linecap="round" stroke-linejoin="round"/>
<path d="M218.8 423.4L233.8 423.4" fill="none" stroke="#1c1c1c" stroke-width="0.8"/>
<path d="M233.8 423.4L262.5 451.3" fill="none" stroke="#1c1c1c" stroke-width="0.8"/>
<path d="M262.5 451.3L256.5 448L259 445.4Z" fill="#fff" stroke="#1c1c1c" stroke-width="0.68"/>
<ellipse cx="209.8" cy="467.4" rx="10.7" ry="10.7" fill="none" stroke="#1c1c1c" stroke-width="0.85"/>
<path d="M207 470.4C207.5 471 208.4 471.3 209.5 471.3C211.9 471.3 213.2 469.7 213.2 467C213.2 464.7 212.1 463.5 209.7 463.5C207.7 463.5 206.4 464.4 206.4 466C206.4 467.5 207.7 468.3 209.7 468.3C211.7 468.3 213.1 467.4 213.2 466.2" fill="none" stroke="#1c1c1c" stroke-width="0.8" stroke-linecap="round" stroke-linejoin="round"/>
<path d="M220.5 467.4L235 467.4" fill="none" stroke="#1c1c1c" stroke-width="0.8"/>
<path d="M235 467.4L262.5 487.5" fill="none" stroke="#1c1c1c" stroke-width="0.8"/>
<path d="M262.5 487.5L256.1 485.1L258.2 482.2Z" fill="#fff" stroke="#1c1c1c" stroke-width="0.68"/>
<ellipse cx="455.3" cy="423.3" rx="10.7" ry="10.7" fill="none" stroke="#1c1c1c" stroke-width="0.85"/>
<path d="M458.2 419.4L452.7 419.4L452.2 422.9C453 422.4 454 422.1 455.2 422.1C457.4 422.1 458.7 423.1 458.7 424.6C458.7 426.2 457.4 427.2 455.2 427.2C453.4 427.2 452.2 426.6 451.9 425.5" fill="none" stroke="#1c1c1c" stroke-width="0.8" stroke-linecap="round" stroke-linejoin="round"/>
<path d="M444.6 423.3L426 423.3" fill="none" stroke="#1c1c1c" stroke-width="0.8"/>
<path d="M426 423.3L344.6 425.8" fill="none" stroke="#1c1c1c" stroke-width="0.8"/>
<path d="M344.6 425.8L351.1 423.8L351.3 427.4Z" fill="#fff" stroke="#1c1c1c" stroke-width="0.68"/>
<path d="M426 423.3L403.6 460.3" fill="none" stroke="#1c1c1c" stroke-width="0.8"/>
<path d="M403.6 460.3L405.5 453.7L408.6 455.6Z" fill="#fff" stroke="#1c1c1c" stroke-width="0.68"/>
<ellipse cx="487" cy="489" rx="10.7" ry="10.7" fill="none" stroke="#1c1c1c" stroke-width="0.85"/>
<path d="M481.3 485.9L482.6 485.1L482.6 492.9M481.1 492.9L484.1 492.9" fill="none" stroke="#1c1c1c" stroke-width="0.8" stroke-linecap="round" stroke-linejoin="round"/>
<path d="M492.4 486C491.9 485.4 491 485.1 489.9 485.1C487.5 485.1 486.2 486.7 486.2 489.4C486.2 491.7 487.3 492.9 489.7 492.9C491.7 492.9 493.1 492 493.1 490.4C493.1 488.9 491.7 488.1 489.7 488.1C487.7 488.1 486.3 489 486.2 490.2" fill="none" stroke="#1c1c1c" stroke-width="0.8" stroke-linecap="round" stroke-linejoin="round"/>
<path d="M476.3 489L462 489" fill="none" stroke="#1c1c1c" stroke-width="0.8"/>
<path d="M462 489L417.2 516.3" fill="none" stroke="#1c1c1c" stroke-width="0.8"/>
<path d="M417.2 516.3L421.9 511.3L423.8 514.4Z" fill="#fff" stroke="#1c1c1c" stroke-width="0.68"/>
<ellipse cx="582.7" cy="501" rx="10.7" ry="10.7" fill="none" stroke="#1c1c1c" stroke-width="0.85"/>
<path d="M579.4 499.1C579.5 497.7 580.8 497.1 582.7 497.1C584.8 497.1 586 497.9 586 499.2C586 500.6 584.2 501.2 582.1 501.9C580.1 502.7 579.1 503.5 579.1 504.9L586.3 504.9" fill="none" stroke="#1c1c1c" stroke-width="0.8" stroke-linecap="round" stroke-linejoin="round"/>
<path d="M572 501L557 501" fill="none" stroke="#1c1c1c" stroke-width="0.8"/>
<path d="M557 501L524.3 548.3" fill="none" stroke="#1c1c1c" stroke-width="0.8"/>
<path d="M524.3 548.3L526.6 541.8L529.5 543.9Z" fill="#fff" stroke="#1c1c1c" stroke-width="0.68"/>
<ellipse cx="201.7" cy="600.7" rx="10.7" ry="10.7" fill="none" stroke="#1c1c1c" stroke-width="0.85"/>
<path d="M198.4 598.8C198.5 597.4 199.8 596.8 201.7 596.8C203.8 596.8 205 597.6 205 598.9C205 600.3 203.2 600.9 201.1 601.6C199.1 602.4 198.1 603.2 198.1 604.6L205.3 604.6" fill="none" stroke="#1c1c1c" stroke-width="0.8" stroke-linecap="round" stroke-linejoin="round"/>
<path d="M212.4 600.7L230 600.7" fill="none" stroke="#1c1c1c" stroke-width="0.8"/>
<path d="M230 600.7L288.3 618.3" fill="none" stroke="#1c1c1c" stroke-width="0.8"/>
<path d="M288.3 618.3L281.5 618.1L282.5 614.7Z" fill="#fff" stroke="#1c1c1c" stroke-width="0.68"/>
<ellipse cx="430.8" cy="650.9" rx="9.4" ry="9.4" fill="none" stroke="#1c1c1c" stroke-width="0.85"/>
<path d="M433.4 648.1C433 647.5 432.2 647.2 431 647.2C428.8 647.2 427.5 648.7 427.5 651.3C427.5 653.5 428.6 654.6 430.9 654.6C432.8 654.6 434.1 653.7 434.1 652.2C434.1 650.8 432.8 650 430.9 650C429 650 427.7 650.9 427.5 652.1" fill="none" stroke="#1c1c1c" stroke-width="0.8" stroke-linecap="round" stroke-linejoin="round"/>
<path d="M421.4 650.9L406.5 650.9" fill="none" stroke="#1c1c1c" stroke-width="0.8"/>
<path d="M406.5 650.9L416.1 633.1" fill="none" stroke="#1c1c1c" stroke-width="0.8"/>
<path d="M416.1 633.1L414.6 639.8L411.4 638.1Z" fill="#fff" stroke="#1c1c1c" stroke-width="0.68"/>
<ellipse cx="504.6" cy="664" rx="10.7" ry="10.7" fill="none" stroke="#1c1c1c" stroke-width="0.85"/>
<path d="M499 660.9L500.3 660.1L500.3 667.9M498.8 667.9L501.8 667.9" fill="none" stroke="#1c1c1c" stroke-width="0.8" stroke-linecap="round" stroke-linejoin="round"/>
<path d="M507.2 660.1C504.7 660.1 503.9 662.1 503.9 664C503.9 666 504.7 667.9 507.2 667.9C509.7 667.9 510.6 666 510.6 664C510.6 662.1 509.7 660.1 507.2 660.1Z" fill="none" stroke="#1c1c1c" stroke-width="0.8" stroke-linecap="round" stroke-linejoin="round"/>
<path d="M493.9 664L478.3 664" fill="none" stroke="#1c1c1c" stroke-width="0.8"/>
<path d="M478.3 664L461.7 630" fill="none" stroke="#1c1c1c" stroke-width="0.8"/>
<path d="M461.7 630L466.2 635.1L463 636.7Z" fill="#fff" stroke="#1c1c1c" stroke-width="0.68"/>
<ellipse cx="427.8" cy="679" rx="10.7" ry="10.7" fill="none" stroke="#1c1c1c" stroke-width="0.85"/>
<path d="M422.1 675.9L423.4 675.1L423.4 682.9M421.9 682.9L424.9 682.9" fill="none" stroke="#1c1c1c" stroke-width="0.8" stroke-linecap="round" stroke-linejoin="round"/>
<path d="M433.4 675.1L427.8 675.1L427.3 678.6C428.1 678.1 429.2 677.8 430.3 677.8C432.5 677.8 433.9 678.8 433.9 680.3C433.9 681.9 432.5 682.9 430.3 682.9C428.5 682.9 427.3 682.3 427 681.2" fill="none" stroke="#1c1c1c" stroke-width="0.8" stroke-linecap="round" stroke-linejoin="round"/>
<path d="M417.1 679L402.7 679" fill="none" stroke="#1c1c1c" stroke-width="0.8"/>
<path d="M402.7 679L396.7 656.7" fill="none" stroke="#1c1c1c" stroke-width="0.8"/>
<path d="M396.7 656.7L400.2 662.6L396.7 663.5Z" fill="#fff" stroke="#1c1c1c" stroke-width="0.68"/>
<ellipse cx="422.8" cy="706.2" rx="10.7" ry="10.7" fill="none" stroke="#1c1c1c" stroke-width="0.85"/>
<path d="M421.6 703.1L423 702.3L423 710.1M421.5 710.1L424.5 710.1" fill="none" stroke="#1c1c1c" stroke-width="0.8" stroke-linecap="round" stroke-linejoin="round"/>
<path d="M412.1 706.2L396.7 706.2" fill="none" stroke="#1c1c1c" stroke-width="0.8"/>
<path d="M396.7 706.2L356.7 668.3" fill="none" stroke="#1c1c1c" stroke-width="0.8"/>
<path d="M356.7 668.3L362.7 671.5L360.3 674.1Z" fill="#fff" stroke="#1c1c1c" stroke-width="0.68"/>
<path d="M396.7 706.2L385 670" fill="none" stroke="#1c1c1c" stroke-width="0.8"/>
<path d="M385 670L388.7 675.7L385.3 676.8Z" fill="#fff" stroke="#1c1c1c" stroke-width="0.68"/>
<ellipse cx="499.2" cy="706.5" rx="10.7" ry="10.7" fill="none" stroke="#1c1c1c" stroke-width="0.85"/>
<path d="M493.1 703.4L494.5 702.6L494.5 710.4M493 710.4L496 710.4" fill="none" stroke="#1c1c1c" stroke-width="0.8" stroke-linecap="round" stroke-linejoin="round"/>
<path d="M503.2 710.4L503.2 702.6L498 708.1L505.6 708.1" fill="none" stroke="#1c1c1c" stroke-width="0.8" stroke-linecap="round" stroke-linejoin="round"/>
<path d="M488.5 706.5L475 706.5" fill="none" stroke="#1c1c1c" stroke-width="0.8"/>
<path d="M475 706.5L457.8 685.2" fill="none" stroke="#1c1c1c" stroke-width="0.8"/>
<path d="M457.8 685.2L463.3 689.2L460.5 691.5Z" fill="#fff" stroke="#1c1c1c" stroke-width="0.68"/>
<ellipse cx="196" cy="714.2" rx="10.7" ry="10.7" fill="none" stroke="#1c1c1c" stroke-width="0.85"/>
<path d="M196 710.3C194.1 710.3 193.1 711 193.1 712.1C193.1 713.2 194.1 713.9 196 713.9C197.9 713.9 198.9 713.2 198.9 712.1C198.9 711 197.9 710.3 196 710.3ZM196 713.9C193.8 713.9 192.6 714.7 192.6 716C192.6 717.3 193.8 718.1 196 718.1C198.2 718.1 199.4 717.3 199.4 716C199.4 714.7 198.2 713.9 196 713.9Z" fill="none" stroke="#1c1c1c" stroke-width="0.8" stroke-linecap="round" stroke-linejoin="round"/>
<path d="M206.7 714.2L216.7 714.2" fill="none" stroke="#1c1c1c" stroke-width="0.8"/>
<path d="M216.7 714.2L257.5 720.2" fill="none" stroke="#1c1c1c" stroke-width="0.8"/>
<path d="M257.5 720.2L250.7 721L251.2 717.5Z" fill="#fff" stroke="#1c1c1c" stroke-width="0.68"/>
<ellipse cx="173.3" cy="732.7" rx="10.7" ry="10.7" fill="none" stroke="#1c1c1c" stroke-width="0.85"/>
<path d="M170.2 730.4C170.5 729.3 171.7 728.8 173.2 728.8C175.2 728.8 176.4 729.5 176.4 730.7C176.4 731.9 175.1 732.5 172.9 732.5C175.2 732.5 176.7 733.2 176.7 734.5C176.7 735.8 175.4 736.6 173.2 736.6C171.4 736.6 170.2 736.1 169.9 734.9" fill="none" stroke="#1c1c1c" stroke-width="0.8" stroke-linecap="round" stroke-linejoin="round"/>
<path d="M184 732.7L196 732.7" fill="none" stroke="#1c1c1c" stroke-width="0.8"/>
<path d="M196 732.7L257.5 738.3" fill="none" stroke="#1c1c1c" stroke-width="0.8"/>
<path d="M257.5 738.3L250.8 739.5L251.1 735.9Z" fill="#fff" stroke="#1c1c1c" stroke-width="0.68"/>
<ellipse cx="163.3" cy="779.7" rx="10.7" ry="10.7" fill="none" stroke="#1c1c1c" stroke-width="0.85"/>
<path d="M157.6 776.6L158.9 775.8L158.9 783.6M157.4 783.6L160.4 783.6" fill="none" stroke="#1c1c1c" stroke-width="0.8" stroke-linecap="round" stroke-linejoin="round"/>
<path d="M165.9 775.8C164 775.8 163 776.5 163 777.6C163 778.7 164 779.4 165.9 779.4C167.8 779.4 168.9 778.7 168.9 777.6C168.9 776.5 167.8 775.8 165.9 775.8ZM165.9 779.4C163.7 779.4 162.5 780.2 162.5 781.5C162.5 782.8 163.7 783.6 165.9 783.6C168.1 783.6 169.4 782.8 169.4 781.5C169.4 780.2 168.1 779.4 165.9 779.4Z" fill="none" stroke="#1c1c1c" stroke-width="0.8" stroke-linecap="round" stroke-linejoin="round"/>
<path d="M174 779.7L188.3 779.7" fill="none" stroke="#1c1c1c" stroke-width="0.8"/>
<path d="M188.3 779.7L220 756.3" fill="none" stroke="#1c1c1c" stroke-width="0.8"/>
<path d="M220 756.3L215.8 761.7L213.6 758.8Z" fill="#fff" stroke="#1c1c1c" stroke-width="0.68"/>
<ellipse cx="191.7" cy="862" rx="10.7" ry="10.7" fill="none" stroke="#1c1c1c" stroke-width="0.85"/>
<path d="M185.6 858.9L187 858.1L187 865.9M185.5 865.9L188.5 865.9" fill="none" stroke="#1c1c1c" stroke-width="0.8" stroke-linecap="round" stroke-linejoin="round"/>
<path d="M195.7 865.9L195.7 858.1L190.5 863.6L198.1 863.6" fill="none" stroke="#1c1c1c" stroke-width="0.8" stroke-linecap="round" stroke-linejoin="round"/>
<path d="M202.4 862L216.7 862" fill="none" stroke="#1c1c1c" stroke-width="0.8"/>
<path d="M216.7 862L226.7 813.7" fill="none" stroke="#1c1c1c" stroke-width="0.8"/>
<path d="M226.7 813.7L227.1 820.5L223.6 819.8Z" fill="#fff" stroke="#1c1c1c" stroke-width="0.68"/>
<path d="M216.7 862L285 846.3" fill="none" stroke="#1c1c1c" stroke-width="0.8"/>
<path d="M285 846.3L279 849.5L278.2 846Z" fill="#fff" stroke="#1c1c1c" stroke-width="0.68"/>
<ellipse cx="593.7" cy="758.8" rx="10.7" ry="10.7" fill="none" stroke="#1c1c1c" stroke-width="0.85"/>
<path d="M588 755.7L589.3 754.9L589.3 762.7M587.8 762.7L590.8 762.7" fill="none" stroke="#1c1c1c" stroke-width="0.8" stroke-linecap="round" stroke-linejoin="round"/>
<path d="M593.5 761.8C594 762.4 594.9 762.7 596.1 762.7C598.4 762.7 599.8 761.1 599.8 758.4C599.8 756.1 598.6 754.9 596.2 754.9C594.2 754.9 592.9 755.8 592.9 757.4C592.9 758.9 594.2 759.7 596.2 759.7C598.2 759.7 599.6 758.8 599.8 757.6" fill="none" stroke="#1c1c1c" stroke-width="0.8" stroke-linecap="round" stroke-linejoin="round"/>
<path d="M604.4 758.8L618.7 758.8" fill="none" stroke="#1c1c1c" stroke-width="0.8"/>
<path d="M618.7 758.8L624.3 795.3" fill="none" stroke="#1c1c1c" stroke-width="0.8"/>
<path d="M624.3 795.3L621.5 789L625.1 788.5Z" fill="#fff" stroke="#1c1c1c" stroke-width="0.68"/>
<ellipse cx="562.7" cy="777" rx="10.7" ry="10.7" fill="none" stroke="#1c1c1c" stroke-width="0.85"/>
<path d="M559.3 773.1L566.1 773.1L561.8 780.9" fill="none" stroke="#1c1c1c" stroke-width="0.8" stroke-linecap="round" stroke-linejoin="round"/>
<path d="M573.4 777L587.7 777" fill="none" stroke="#1c1c1c" stroke-width="0.8"/>
<path d="M587.7 777L601 820.3" fill="none" stroke="#1c1c1c" stroke-width="0.8"/>
<path d="M601 820.3L597.3 814.5L600.8 813.5Z" fill="#fff" stroke="#1c1c1c" stroke-width="0.68"/>
<ellipse cx="508.3" cy="793.7" rx="10.7" ry="10.7" fill="none" stroke="#1c1c1c" stroke-width="0.85"/>
<path d="M502.6 790.6L503.9 789.8L503.9 797.6M502.4 797.6L505.4 797.6" fill="none" stroke="#1c1c1c" stroke-width="0.8" stroke-linecap="round" stroke-linejoin="round"/>
<path d="M507.8 791.4C508.1 790.3 509.3 789.8 510.8 789.8C512.8 789.8 514 790.5 514 791.7C514 792.9 512.7 793.5 510.5 793.5C512.8 793.5 514.4 794.2 514.4 795.5C514.4 796.8 513 797.6 510.8 797.6C509 797.6 507.8 797.1 507.5 795.9" fill="none" stroke="#1c1c1c" stroke-width="0.8" stroke-linecap="round" stroke-linejoin="round"/>
<path d="M519 793.7L534 793.7" fill="none" stroke="#1c1c1c" stroke-width="0.8"/>
<path d="M534 793.7L541.1 856" fill="none" stroke="#1c1c1c" stroke-width="0.8"/>
<path d="M541.1 856L538.6 849.6L542.1 849.2Z" fill="#fff" stroke="#1c1c1c" stroke-width="0.68"/>
<path d="M534 793.7L572.3 847.5" fill="none" stroke="#1c1c1c" stroke-width="0.8"/>
<path d="M572.3 847.5L567 843.2L569.9 841.1Z" fill="#fff" stroke="#1c1c1c" stroke-width="0.68"/>
<ellipse cx="376.7" cy="841.3" rx="10.7" ry="10.7" fill="none" stroke="#1c1c1c" stroke-width="0.85"/>
<path d="M378.1 845.2L378.1 837.4L372.9 842.9L380.5 842.9" fill="none" stroke="#1c1c1c" stroke-width="0.8" stroke-linecap="round" stroke-linejoin="round"/>
<path d="M387.4 841.3L403.3 841.3" fill="none" stroke="#1c1c1c" stroke-width="0.8"/>
<path d="M403.3 841.3L421.7 813.7" fill="none" stroke="#1c1c1c" stroke-width="0.8"/>
<path d="M421.7 813.7L419.5 820.2L416.5 818.2Z" fill="#fff" stroke="#1c1c1c" stroke-width="0.68"/>
<ellipse cx="330" cy="871.3" rx="10.7" ry="10.7" fill="none" stroke="#1c1c1c" stroke-width="0.85"/>
<path d="M326.6 867.4L333.4 867.4L329.1 875.2" fill="none" stroke="#1c1c1c" stroke-width="0.8" stroke-linecap="round" stroke-linejoin="round"/>
<path d="M340.7 871.3L356.7 871.3" fill="none" stroke="#1c1c1c" stroke-width="0.8"/>
<path d="M356.7 871.3L396.7 880.3" fill="none" stroke="#1c1c1c" stroke-width="0.8"/>
<path d="M396.7 880.3L389.9 880.6L390.7 877.1Z" fill="#fff" stroke="#1c1c1c" stroke-width="0.68"/>
<ellipse cx="385" cy="915.3" rx="10.7" ry="10.7" fill="none" stroke="#1c1c1c" stroke-width="0.85"/>
<path d="M377.2 913.4C377.4 912 378.7 911.4 380.5 911.4C382.7 911.4 383.9 912.2 383.9 913.5C383.9 914.9 382 915.5 379.9 916.2C378 917 377 917.8 377 919.2L384.1 919.2" fill="none" stroke="#1c1c1c" stroke-width="0.8" stroke-linecap="round" stroke-linejoin="round"/>
<path d="M389.7 911.4C387.1 911.4 386.3 913.4 386.3 915.3C386.3 917.2 387.1 919.2 389.7 919.2C392.2 919.2 393 917.2 393 915.3C393 913.4 392.2 911.4 389.7 911.4Z" fill="none" stroke="#1c1c1c" stroke-width="0.8" stroke-linecap="round" stroke-linejoin="round"/>
<path d="M395.7 915.3L410 915.3" fill="none" stroke="#1c1c1c" stroke-width="0.8"/>
<path d="M410 915.3L456.7 928.7" fill="none" stroke="#1c1c1c" stroke-width="0.8"/>
<path d="M456.7 928.7L449.9 928.6L450.9 925.1Z" fill="#fff" stroke="#1c1c1c" stroke-width="0.68"/>
<ellipse cx="344.7" cy="792.7" rx="10.7" ry="10.7" fill="none" stroke="#1c1c1c" stroke-width="0.85"/>
<path d="M339 789.6L340.3 788.8L340.3 796.6M338.8 796.6L341.8 796.6" fill="none" stroke="#1c1c1c" stroke-width="0.8" stroke-linecap="round" stroke-linejoin="round"/>
<path d="M343.9 788.8L350.8 788.8L346.4 796.6" fill="none" stroke="#1c1c1c" stroke-width="0.8" stroke-linecap="round" stroke-linejoin="round"/>
<path d="M349.5 783.2L366.7 745.3" fill="none" stroke="#1c1c1c" stroke-width="0.8"/>
<path d="M366.7 745.3L365.6 752.1L362.3 750.6Z" fill="#fff" stroke="#1c1c1c" stroke-width="0.68"/>
<text x="0" y="0" transform="translate(214.6 681.3) rotate(-47.8)" font-family="Liberation Sans, sans-serif" font-size="75" fill="#bbd489" fill-opacity="1">HobbyStore.it</text>
<text x="506.2" y="962.7" font-family="Liberation Sans, sans-serif" font-size="24.6" fill="#000" style="text-rendering:geometricPrecision" transform="rotate(0.001 506 962)">E3-02342B-01</text>
</svg>
</body></html>
